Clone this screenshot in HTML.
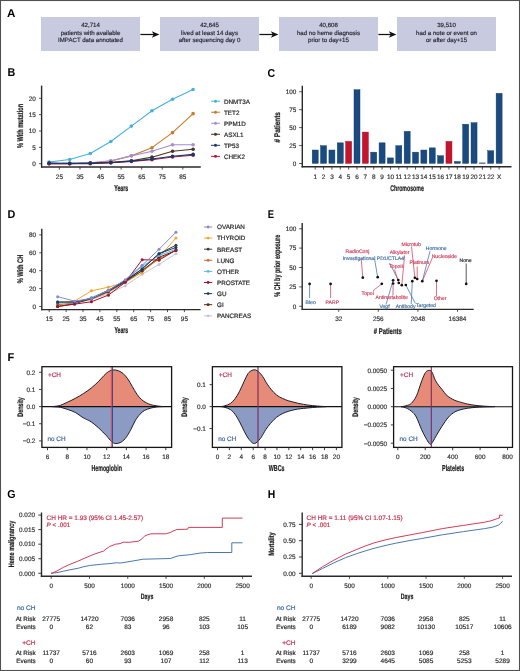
<!DOCTYPE html>
<html><head><meta charset="utf-8"><style>
html,body{margin:0;padding:0;background:#fff;}
svg{display:block;font-family:"Liberation Sans", sans-serif;will-change:transform;text-rendering:geometricPrecision;}
</style></head><body>
<svg width="520" height="671" viewBox="0 0 520 671">
<rect width="520" height="671" fill="#fff"/>
<text x="6.90" y="16.70" font-size="11.4" font-weight="bold" fill="#000" textLength="8.4" lengthAdjust="spacingAndGlyphs">A</text>
<rect x="41" y="17" width="99" height="34" fill="#c8cadf"/>
<text x="90.50" y="26.60" font-size="6.1" text-anchor="middle" fill="#2a2a35" stroke="#2a2a35" stroke-width="0.18" font-weight="normal" >42,714</text>
<text x="90.50" y="34.50" font-size="6.1" text-anchor="middle" fill="#2a2a35" stroke="#2a2a35" stroke-width="0.18" font-weight="normal" >patients with available</text>
<text x="90.50" y="42.40" font-size="6.1" text-anchor="middle" fill="#2a2a35" stroke="#2a2a35" stroke-width="0.18" font-weight="normal" >IMPACT data annotated</text>
<line x1="140.40" y1="34.50" x2="155.40" y2="34.50" stroke="#111" stroke-width="1.25" />
<path d="M159.4,34.5 L151.8,31.2 L153.8,34.5 L151.8,37.8 Z" fill="#111"/>
<rect x="160" y="17" width="99" height="34" fill="#c8cadf"/>
<text x="209.50" y="26.60" font-size="6.1" text-anchor="middle" fill="#2a2a35" stroke="#2a2a35" stroke-width="0.18" font-weight="normal" >42,645</text>
<text x="209.50" y="34.50" font-size="6.1" text-anchor="middle" fill="#2a2a35" stroke="#2a2a35" stroke-width="0.18" font-weight="normal" >lived at least 14 days</text>
<text x="209.50" y="42.40" font-size="6.1" text-anchor="middle" fill="#2a2a35" stroke="#2a2a35" stroke-width="0.18" font-weight="normal" >after sequencing day 0</text>
<line x1="259.40" y1="34.50" x2="274.40" y2="34.50" stroke="#111" stroke-width="1.25" />
<path d="M278.4,34.5 L270.79999999999995,31.2 L272.79999999999995,34.5 L270.79999999999995,37.8 Z" fill="#111"/>
<rect x="279" y="17" width="99" height="34" fill="#c8cadf"/>
<text x="328.50" y="26.60" font-size="6.1" text-anchor="middle" fill="#2a2a35" stroke="#2a2a35" stroke-width="0.18" font-weight="normal" >40,608</text>
<text x="328.50" y="34.50" font-size="6.1" text-anchor="middle" fill="#2a2a35" stroke="#2a2a35" stroke-width="0.18" font-weight="normal" >had no heme diagnosis</text>
<text x="328.50" y="42.40" font-size="6.1" text-anchor="middle" fill="#2a2a35" stroke="#2a2a35" stroke-width="0.18" font-weight="normal" >prior to day+15</text>
<line x1="378.40" y1="34.50" x2="392.40" y2="34.50" stroke="#111" stroke-width="1.25" />
<path d="M396.4,34.5 L388.79999999999995,31.2 L390.79999999999995,34.5 L388.79999999999995,37.8 Z" fill="#111"/>
<rect x="397" y="17" width="99" height="34" fill="#c8cadf"/>
<text x="446.50" y="26.60" font-size="6.1" text-anchor="middle" fill="#2a2a35" stroke="#2a2a35" stroke-width="0.18" font-weight="normal" >39,510</text>
<text x="446.50" y="34.50" font-size="6.1" text-anchor="middle" fill="#2a2a35" stroke="#2a2a35" stroke-width="0.18" font-weight="normal" >had a note or event on</text>
<text x="446.50" y="42.40" font-size="6.1" text-anchor="middle" fill="#2a2a35" stroke="#2a2a35" stroke-width="0.18" font-weight="normal" >or after day+15</text>
<text x="7.50" y="76.40" font-size="11.4" font-weight="bold" fill="#000" textLength="7.8" lengthAdjust="spacingAndGlyphs">B</text>
<line x1="41.60" y1="85.60" x2="41.60" y2="167.60" stroke="#2a2a2a" stroke-width="1.4" />
<line x1="41.00" y1="167.00" x2="200.80" y2="167.00" stroke="#2a2a2a" stroke-width="1.4" />
<line x1="39.00" y1="163.70" x2="41.60" y2="163.70" stroke="#2a2a2a" stroke-width="0.8" />
<text x="35.80" y="166.00" font-size="6.4" text-anchor="end" fill="#333" stroke="#333" stroke-width="0.18" font-weight="normal" >0</text>
<line x1="39.00" y1="147.35" x2="41.60" y2="147.35" stroke="#2a2a2a" stroke-width="0.8" />
<text x="35.80" y="149.65" font-size="6.4" text-anchor="end" fill="#333" stroke="#333" stroke-width="0.18" font-weight="normal" >5</text>
<line x1="39.00" y1="131.00" x2="41.60" y2="131.00" stroke="#2a2a2a" stroke-width="0.8" />
<text x="35.80" y="133.30" font-size="6.4" text-anchor="end" fill="#333" stroke="#333" stroke-width="0.18" font-weight="normal" >10</text>
<line x1="39.00" y1="114.65" x2="41.60" y2="114.65" stroke="#2a2a2a" stroke-width="0.8" />
<text x="35.80" y="116.95" font-size="6.4" text-anchor="end" fill="#333" stroke="#333" stroke-width="0.18" font-weight="normal" >15</text>
<line x1="39.00" y1="98.30" x2="41.60" y2="98.30" stroke="#2a2a2a" stroke-width="0.8" />
<text x="35.80" y="100.60" font-size="6.4" text-anchor="end" fill="#333" stroke="#333" stroke-width="0.18" font-weight="normal" >20</text>
<line x1="59.40" y1="167.00" x2="59.40" y2="169.60" stroke="#2a2a2a" stroke-width="0.8" />
<text x="59.40" y="178.80" font-size="6.4" text-anchor="middle" fill="#333" stroke="#333" stroke-width="0.18" font-weight="normal" >25</text>
<line x1="79.97" y1="167.00" x2="79.97" y2="169.60" stroke="#2a2a2a" stroke-width="0.8" />
<text x="79.97" y="178.80" font-size="6.4" text-anchor="middle" fill="#333" stroke="#333" stroke-width="0.18" font-weight="normal" >35</text>
<line x1="100.54" y1="167.00" x2="100.54" y2="169.60" stroke="#2a2a2a" stroke-width="0.8" />
<text x="100.54" y="178.80" font-size="6.4" text-anchor="middle" fill="#333" stroke="#333" stroke-width="0.18" font-weight="normal" >45</text>
<line x1="121.11" y1="167.00" x2="121.11" y2="169.60" stroke="#2a2a2a" stroke-width="0.8" />
<text x="121.11" y="178.80" font-size="6.4" text-anchor="middle" fill="#333" stroke="#333" stroke-width="0.18" font-weight="normal" >55</text>
<line x1="141.68" y1="167.00" x2="141.68" y2="169.60" stroke="#2a2a2a" stroke-width="0.8" />
<text x="141.68" y="178.80" font-size="6.4" text-anchor="middle" fill="#333" stroke="#333" stroke-width="0.18" font-weight="normal" >65</text>
<line x1="162.25" y1="167.00" x2="162.25" y2="169.60" stroke="#2a2a2a" stroke-width="0.8" />
<text x="162.25" y="178.80" font-size="6.4" text-anchor="middle" fill="#333" stroke="#333" stroke-width="0.18" font-weight="normal" >75</text>
<line x1="182.82" y1="167.00" x2="182.82" y2="169.60" stroke="#2a2a2a" stroke-width="0.8" />
<text x="182.82" y="178.80" font-size="6.4" text-anchor="middle" fill="#333" stroke="#333" stroke-width="0.18" font-weight="normal" >85</text>
<text x="121.20" y="190.70" font-size="8.6" text-anchor="middle" fill="#222" stroke="#222" stroke-width="0.22" font-weight="bold" textLength="14" lengthAdjust="spacingAndGlyphs">Years</text>
<text transform="translate(23.10,126.00) rotate(-90)" x="0" y="0" font-size="8.4" text-anchor="middle" fill="#222" stroke="#222" stroke-width="0.22" font-weight="bold" textLength="44.2" lengthAdjust="spacingAndGlyphs">% With mutation</text>
<polyline points="49.11,162.06 69.69,159.45 90.25,153.56 110.82,141.46 131.40,126.09 151.97,110.73 172.53,99.28 193.10,89.47" fill="none" stroke="#45b0de" stroke-width="1.1" stroke-linejoin="round" />
<circle cx="49.11" cy="162.06" r="1.8" fill="#45b0de"/>
<circle cx="69.69" cy="159.45" r="1.8" fill="#45b0de"/>
<circle cx="90.25" cy="153.56" r="1.8" fill="#45b0de"/>
<circle cx="110.82" cy="141.46" r="1.8" fill="#45b0de"/>
<circle cx="131.40" cy="126.09" r="1.8" fill="#45b0de"/>
<circle cx="151.97" cy="110.73" r="1.8" fill="#45b0de"/>
<circle cx="172.53" cy="99.28" r="1.8" fill="#45b0de"/>
<circle cx="193.10" cy="89.47" r="1.8" fill="#45b0de"/>
<polyline points="49.11,163.70 69.69,163.37 90.25,163.05 110.82,161.08 131.40,155.85 151.97,147.68 172.53,132.63 193.10,113.67" fill="none" stroke="#c97a2c" stroke-width="1.1" stroke-linejoin="round" />
<circle cx="49.11" cy="163.70" r="1.8" fill="#c97a2c"/>
<circle cx="69.69" cy="163.37" r="1.8" fill="#c97a2c"/>
<circle cx="90.25" cy="163.05" r="1.8" fill="#c97a2c"/>
<circle cx="110.82" cy="161.08" r="1.8" fill="#c97a2c"/>
<circle cx="131.40" cy="155.85" r="1.8" fill="#c97a2c"/>
<circle cx="151.97" cy="147.68" r="1.8" fill="#c97a2c"/>
<circle cx="172.53" cy="132.63" r="1.8" fill="#c97a2c"/>
<circle cx="193.10" cy="113.67" r="1.8" fill="#c97a2c"/>
<polyline points="49.11,163.70 69.69,163.37 90.25,162.72 110.82,160.76 131.40,155.85 151.97,151.27 172.53,144.73 193.10,144.73" fill="none" stroke="#a48fd0" stroke-width="1.1" stroke-linejoin="round" />
<circle cx="49.11" cy="163.70" r="1.8" fill="#a48fd0"/>
<circle cx="69.69" cy="163.37" r="1.8" fill="#a48fd0"/>
<circle cx="90.25" cy="162.72" r="1.8" fill="#a48fd0"/>
<circle cx="110.82" cy="160.76" r="1.8" fill="#a48fd0"/>
<circle cx="131.40" cy="155.85" r="1.8" fill="#a48fd0"/>
<circle cx="151.97" cy="151.27" r="1.8" fill="#a48fd0"/>
<circle cx="172.53" cy="144.73" r="1.8" fill="#a48fd0"/>
<circle cx="193.10" cy="144.73" r="1.8" fill="#a48fd0"/>
<polyline points="49.11,163.37 69.69,163.70 90.25,163.05 110.82,162.39 131.40,160.76 151.97,157.16 172.53,151.27 193.10,149.31" fill="none" stroke="#4b3421" stroke-width="1.1" stroke-linejoin="round" />
<circle cx="49.11" cy="163.37" r="1.8" fill="#4b3421"/>
<circle cx="69.69" cy="163.70" r="1.8" fill="#4b3421"/>
<circle cx="90.25" cy="163.05" r="1.8" fill="#4b3421"/>
<circle cx="110.82" cy="162.39" r="1.8" fill="#4b3421"/>
<circle cx="131.40" cy="160.76" r="1.8" fill="#4b3421"/>
<circle cx="151.97" cy="157.16" r="1.8" fill="#4b3421"/>
<circle cx="172.53" cy="151.27" r="1.8" fill="#4b3421"/>
<circle cx="193.10" cy="149.31" r="1.8" fill="#4b3421"/>
<polyline points="49.11,163.70 69.69,163.70 90.25,163.70 110.82,162.72 131.40,161.41 151.97,159.78 172.53,157.00 193.10,155.20" fill="none" stroke="#b5173f" stroke-width="1.1" stroke-linejoin="round" />
<circle cx="49.11" cy="163.70" r="1.8" fill="#b5173f"/>
<circle cx="69.69" cy="163.70" r="1.8" fill="#b5173f"/>
<circle cx="90.25" cy="163.70" r="1.8" fill="#b5173f"/>
<circle cx="110.82" cy="162.72" r="1.8" fill="#b5173f"/>
<circle cx="131.40" cy="161.41" r="1.8" fill="#b5173f"/>
<circle cx="151.97" cy="159.78" r="1.8" fill="#b5173f"/>
<circle cx="172.53" cy="157.00" r="1.8" fill="#b5173f"/>
<circle cx="193.10" cy="155.20" r="1.8" fill="#b5173f"/>
<polyline points="49.11,163.05 69.69,163.37 90.25,163.37 110.82,162.72 131.40,161.08 151.97,158.96 172.53,156.18 193.10,154.38" fill="none" stroke="#16386b" stroke-width="1.1" stroke-linejoin="round" />
<circle cx="49.11" cy="163.05" r="1.8" fill="#16386b"/>
<circle cx="69.69" cy="163.37" r="1.8" fill="#16386b"/>
<circle cx="90.25" cy="163.37" r="1.8" fill="#16386b"/>
<circle cx="110.82" cy="162.72" r="1.8" fill="#16386b"/>
<circle cx="131.40" cy="161.08" r="1.8" fill="#16386b"/>
<circle cx="151.97" cy="158.96" r="1.8" fill="#16386b"/>
<circle cx="172.53" cy="156.18" r="1.8" fill="#16386b"/>
<circle cx="193.10" cy="154.38" r="1.8" fill="#16386b"/>
<line x1="211.00" y1="101.20" x2="220.00" y2="101.20" stroke="#45b0de" stroke-width="1.0" />
<circle cx="215.50" cy="101.20" r="1.5" fill="#45b0de"/>
<text x="224.00" y="103.50" font-size="6.3" text-anchor="start" fill="#222" stroke="#222" stroke-width="0.18" font-weight="normal" >DNMT3A</text>
<line x1="211.00" y1="112.23" x2="220.00" y2="112.23" stroke="#c97a2c" stroke-width="1.0" />
<circle cx="215.50" cy="112.23" r="1.5" fill="#c97a2c"/>
<text x="224.00" y="114.53" font-size="6.3" text-anchor="start" fill="#222" stroke="#222" stroke-width="0.18" font-weight="normal" >TET2</text>
<line x1="211.00" y1="123.26" x2="220.00" y2="123.26" stroke="#a48fd0" stroke-width="1.0" />
<circle cx="215.50" cy="123.26" r="1.5" fill="#a48fd0"/>
<text x="224.00" y="125.56" font-size="6.3" text-anchor="start" fill="#222" stroke="#222" stroke-width="0.18" font-weight="normal" >PPM1D</text>
<line x1="211.00" y1="134.29" x2="220.00" y2="134.29" stroke="#4b3421" stroke-width="1.0" />
<circle cx="215.50" cy="134.29" r="1.5" fill="#4b3421"/>
<text x="224.00" y="136.59" font-size="6.3" text-anchor="start" fill="#222" stroke="#222" stroke-width="0.18" font-weight="normal" >ASXL1</text>
<line x1="211.00" y1="145.32" x2="220.00" y2="145.32" stroke="#16386b" stroke-width="1.0" />
<circle cx="215.50" cy="145.32" r="1.5" fill="#16386b"/>
<text x="224.00" y="147.62" font-size="6.3" text-anchor="start" fill="#222" stroke="#222" stroke-width="0.18" font-weight="normal" >TP53</text>
<line x1="211.00" y1="156.35" x2="220.00" y2="156.35" stroke="#b5173f" stroke-width="1.0" />
<circle cx="215.50" cy="156.35" r="1.5" fill="#b5173f"/>
<text x="224.00" y="158.65" font-size="6.3" text-anchor="start" fill="#222" stroke="#222" stroke-width="0.18" font-weight="normal" >CHEK2</text>
<text x="267.50" y="76.60" font-size="11.4" font-weight="bold" fill="#000" textLength="7.6" lengthAdjust="spacingAndGlyphs">C</text>
<line x1="302.30" y1="85.70" x2="302.30" y2="167.40" stroke="#2a2a2a" stroke-width="1.4" />
<line x1="301.60" y1="166.80" x2="511.50" y2="166.80" stroke="#2a2a2a" stroke-width="1.4" />
<line x1="299.20" y1="163.50" x2="302.20" y2="163.50" stroke="#2a2a2a" stroke-width="0.8" />
<text x="296.40" y="165.80" font-size="6.4" text-anchor="end" fill="#333" stroke="#333" stroke-width="0.18" font-weight="normal" >0</text>
<line x1="299.20" y1="145.56" x2="302.20" y2="145.56" stroke="#2a2a2a" stroke-width="0.8" />
<text x="296.40" y="147.86" font-size="6.4" text-anchor="end" fill="#333" stroke="#333" stroke-width="0.18" font-weight="normal" >25</text>
<line x1="299.20" y1="127.62" x2="302.20" y2="127.62" stroke="#2a2a2a" stroke-width="0.8" />
<text x="296.40" y="129.93" font-size="6.4" text-anchor="end" fill="#333" stroke="#333" stroke-width="0.18" font-weight="normal" >50</text>
<line x1="299.20" y1="109.69" x2="302.20" y2="109.69" stroke="#2a2a2a" stroke-width="0.8" />
<text x="296.40" y="111.99" font-size="6.4" text-anchor="end" fill="#333" stroke="#333" stroke-width="0.18" font-weight="normal" >75</text>
<line x1="299.20" y1="91.75" x2="302.20" y2="91.75" stroke="#2a2a2a" stroke-width="0.8" />
<text x="296.40" y="94.05" font-size="6.4" text-anchor="end" fill="#333" stroke="#333" stroke-width="0.18" font-weight="normal" >100</text>
<rect x="312.20" y="150.02" width="6.0" height="13.33" fill="#194a80" stroke="#0f3a6e" stroke-width="0.45"/>
<line x1="315.20" y1="166.80" x2="315.20" y2="169.60" stroke="#2a2a2a" stroke-width="0.8" />
<text x="315.20" y="179.20" font-size="6.4" text-anchor="middle" fill="#333" stroke="#333" stroke-width="0.18" font-weight="normal" >1</text>
<rect x="320.56" y="145.71" width="6.0" height="17.64" fill="#194a80" stroke="#0f3a6e" stroke-width="0.45"/>
<line x1="323.56" y1="166.80" x2="323.56" y2="169.60" stroke="#2a2a2a" stroke-width="0.8" />
<text x="323.56" y="179.20" font-size="6.4" text-anchor="middle" fill="#333" stroke="#333" stroke-width="0.18" font-weight="normal" >2</text>
<rect x="328.92" y="150.02" width="6.0" height="13.33" fill="#194a80" stroke="#0f3a6e" stroke-width="0.45"/>
<line x1="331.92" y1="166.80" x2="331.92" y2="169.60" stroke="#2a2a2a" stroke-width="0.8" />
<text x="331.92" y="179.20" font-size="6.4" text-anchor="middle" fill="#333" stroke="#333" stroke-width="0.18" font-weight="normal" >3</text>
<rect x="337.28" y="142.84" width="6.0" height="20.51" fill="#194a80" stroke="#0f3a6e" stroke-width="0.45"/>
<line x1="340.28" y1="166.80" x2="340.28" y2="169.60" stroke="#2a2a2a" stroke-width="0.8" />
<text x="340.28" y="179.20" font-size="6.4" text-anchor="middle" fill="#333" stroke="#333" stroke-width="0.18" font-weight="normal" >4</text>
<rect x="345.64" y="141.41" width="6.0" height="21.94" fill="#c4142e" stroke="#9a0f25" stroke-width="0.45"/>
<line x1="348.64" y1="166.80" x2="348.64" y2="169.60" stroke="#2a2a2a" stroke-width="0.8" />
<text x="348.64" y="179.20" font-size="6.4" text-anchor="middle" fill="#333" stroke="#333" stroke-width="0.18" font-weight="normal" >5</text>
<rect x="354.00" y="89.75" width="6.0" height="73.60" fill="#194a80" stroke="#0f3a6e" stroke-width="0.45"/>
<line x1="357.00" y1="166.80" x2="357.00" y2="169.60" stroke="#2a2a2a" stroke-width="0.8" />
<text x="357.00" y="179.20" font-size="6.4" text-anchor="middle" fill="#333" stroke="#333" stroke-width="0.18" font-weight="normal" >6</text>
<rect x="362.36" y="132.08" width="6.0" height="31.27" fill="#c4142e" stroke="#9a0f25" stroke-width="0.45"/>
<line x1="365.36" y1="166.80" x2="365.36" y2="169.60" stroke="#2a2a2a" stroke-width="0.8" />
<text x="365.36" y="179.20" font-size="6.4" text-anchor="middle" fill="#333" stroke="#333" stroke-width="0.18" font-weight="normal" >7</text>
<rect x="370.72" y="152.17" width="6.0" height="11.18" fill="#194a80" stroke="#0f3a6e" stroke-width="0.45"/>
<line x1="373.72" y1="166.80" x2="373.72" y2="169.60" stroke="#2a2a2a" stroke-width="0.8" />
<text x="373.72" y="179.20" font-size="6.4" text-anchor="middle" fill="#333" stroke="#333" stroke-width="0.18" font-weight="normal" >8</text>
<rect x="379.08" y="142.84" width="6.0" height="20.51" fill="#194a80" stroke="#0f3a6e" stroke-width="0.45"/>
<line x1="382.08" y1="166.80" x2="382.08" y2="169.60" stroke="#2a2a2a" stroke-width="0.8" />
<text x="382.08" y="179.20" font-size="6.4" text-anchor="middle" fill="#333" stroke="#333" stroke-width="0.18" font-weight="normal" >9</text>
<rect x="387.44" y="157.91" width="6.0" height="5.44" fill="#194a80" stroke="#0f3a6e" stroke-width="0.45"/>
<line x1="390.44" y1="166.80" x2="390.44" y2="169.60" stroke="#2a2a2a" stroke-width="0.8" />
<text x="390.44" y="179.20" font-size="6.4" text-anchor="middle" fill="#333" stroke="#333" stroke-width="0.18" font-weight="normal" >10</text>
<rect x="395.80" y="145.71" width="6.0" height="17.64" fill="#194a80" stroke="#0f3a6e" stroke-width="0.45"/>
<line x1="398.80" y1="166.80" x2="398.80" y2="169.60" stroke="#2a2a2a" stroke-width="0.8" />
<text x="398.80" y="179.20" font-size="6.4" text-anchor="middle" fill="#333" stroke="#333" stroke-width="0.18" font-weight="normal" >11</text>
<rect x="404.16" y="131.36" width="6.0" height="31.99" fill="#194a80" stroke="#0f3a6e" stroke-width="0.45"/>
<line x1="407.16" y1="166.80" x2="407.16" y2="169.60" stroke="#2a2a2a" stroke-width="0.8" />
<text x="407.16" y="179.20" font-size="6.4" text-anchor="middle" fill="#333" stroke="#333" stroke-width="0.18" font-weight="normal" >12</text>
<rect x="412.52" y="152.17" width="6.0" height="11.18" fill="#194a80" stroke="#0f3a6e" stroke-width="0.45"/>
<line x1="415.52" y1="166.80" x2="415.52" y2="169.60" stroke="#2a2a2a" stroke-width="0.8" />
<text x="415.52" y="179.20" font-size="6.4" text-anchor="middle" fill="#333" stroke="#333" stroke-width="0.18" font-weight="normal" >13</text>
<rect x="420.88" y="150.02" width="6.0" height="13.33" fill="#194a80" stroke="#0f3a6e" stroke-width="0.45"/>
<line x1="423.88" y1="166.80" x2="423.88" y2="169.60" stroke="#2a2a2a" stroke-width="0.8" />
<text x="423.88" y="179.20" font-size="6.4" text-anchor="middle" fill="#333" stroke="#333" stroke-width="0.18" font-weight="normal" >14</text>
<rect x="429.24" y="147.87" width="6.0" height="15.48" fill="#194a80" stroke="#0f3a6e" stroke-width="0.45"/>
<line x1="432.24" y1="166.80" x2="432.24" y2="169.60" stroke="#2a2a2a" stroke-width="0.8" />
<text x="432.24" y="179.20" font-size="6.4" text-anchor="middle" fill="#333" stroke="#333" stroke-width="0.18" font-weight="normal" >15</text>
<rect x="437.60" y="155.76" width="6.0" height="7.59" fill="#194a80" stroke="#0f3a6e" stroke-width="0.45"/>
<line x1="440.60" y1="166.80" x2="440.60" y2="169.60" stroke="#2a2a2a" stroke-width="0.8" />
<text x="440.60" y="179.20" font-size="6.4" text-anchor="middle" fill="#333" stroke="#333" stroke-width="0.18" font-weight="normal" >16</text>
<rect x="445.96" y="141.41" width="6.0" height="21.94" fill="#c4142e" stroke="#9a0f25" stroke-width="0.45"/>
<line x1="448.96" y1="166.80" x2="448.96" y2="169.60" stroke="#2a2a2a" stroke-width="0.8" />
<text x="448.96" y="179.20" font-size="6.4" text-anchor="middle" fill="#333" stroke="#333" stroke-width="0.18" font-weight="normal" >17</text>
<rect x="454.32" y="161.50" width="6.0" height="1.85" fill="#194a80" stroke="#0f3a6e" stroke-width="0.45"/>
<line x1="457.32" y1="166.80" x2="457.32" y2="169.60" stroke="#2a2a2a" stroke-width="0.8" />
<text x="457.32" y="179.20" font-size="6.4" text-anchor="middle" fill="#333" stroke="#333" stroke-width="0.18" font-weight="normal" >18</text>
<rect x="462.68" y="124.19" width="6.0" height="39.16" fill="#194a80" stroke="#0f3a6e" stroke-width="0.45"/>
<line x1="465.68" y1="166.80" x2="465.68" y2="169.60" stroke="#2a2a2a" stroke-width="0.8" />
<text x="465.68" y="179.20" font-size="6.4" text-anchor="middle" fill="#333" stroke="#333" stroke-width="0.18" font-weight="normal" >19</text>
<rect x="471.04" y="122.75" width="6.0" height="40.60" fill="#194a80" stroke="#0f3a6e" stroke-width="0.45"/>
<line x1="474.04" y1="166.80" x2="474.04" y2="169.60" stroke="#2a2a2a" stroke-width="0.8" />
<text x="474.04" y="179.20" font-size="6.4" text-anchor="middle" fill="#333" stroke="#333" stroke-width="0.18" font-weight="normal" >20</text>
<rect x="479.40" y="162.93" width="6.0" height="0.42" fill="#194a80" stroke="#0f3a6e" stroke-width="0.45"/>
<line x1="482.40" y1="166.80" x2="482.40" y2="169.60" stroke="#2a2a2a" stroke-width="0.8" />
<text x="482.40" y="179.20" font-size="6.4" text-anchor="middle" fill="#333" stroke="#333" stroke-width="0.18" font-weight="normal" >21</text>
<rect x="487.76" y="150.74" width="6.0" height="12.62" fill="#194a80" stroke="#0f3a6e" stroke-width="0.45"/>
<line x1="490.76" y1="166.80" x2="490.76" y2="169.60" stroke="#2a2a2a" stroke-width="0.8" />
<text x="490.76" y="179.20" font-size="6.4" text-anchor="middle" fill="#333" stroke="#333" stroke-width="0.18" font-weight="normal" >22</text>
<rect x="496.12" y="93.34" width="6.0" height="70.02" fill="#194a80" stroke="#0f3a6e" stroke-width="0.45"/>
<line x1="499.12" y1="166.80" x2="499.12" y2="169.60" stroke="#2a2a2a" stroke-width="0.8" />
<text x="499.12" y="179.20" font-size="6.4" text-anchor="middle" fill="#333" stroke="#333" stroke-width="0.18" font-weight="normal" >X</text>
<text x="407.00" y="190.70" font-size="8.2" text-anchor="middle" fill="#222" stroke="#222" stroke-width="0.22" font-weight="bold" textLength="33.6" lengthAdjust="spacingAndGlyphs">Chromosome</text>
<text transform="translate(279.60,127.30) rotate(-90)" x="0" y="0" font-size="8.2" text-anchor="middle" fill="#222" stroke="#222" stroke-width="0.22" font-weight="bold" textLength="30.5" lengthAdjust="spacingAndGlyphs"># Patients</text>
<text x="7.50" y="217.60" font-size="11.4" font-weight="bold" fill="#000" textLength="7.8" lengthAdjust="spacingAndGlyphs">D</text>
<line x1="41.80" y1="228.80" x2="41.80" y2="310.30" stroke="#2a2a2a" stroke-width="1.4" />
<line x1="41.20" y1="309.60" x2="200.60" y2="309.60" stroke="#2a2a2a" stroke-width="1.4" />
<line x1="39.20" y1="306.50" x2="41.80" y2="306.50" stroke="#2a2a2a" stroke-width="0.8" />
<text x="36.00" y="308.80" font-size="6.4" text-anchor="end" fill="#333" stroke="#333" stroke-width="0.18" font-weight="normal" >0</text>
<line x1="39.20" y1="288.60" x2="41.80" y2="288.60" stroke="#2a2a2a" stroke-width="0.8" />
<text x="36.00" y="290.90" font-size="6.4" text-anchor="end" fill="#333" stroke="#333" stroke-width="0.18" font-weight="normal" >20</text>
<line x1="39.20" y1="270.70" x2="41.80" y2="270.70" stroke="#2a2a2a" stroke-width="0.8" />
<text x="36.00" y="273.00" font-size="6.4" text-anchor="end" fill="#333" stroke="#333" stroke-width="0.18" font-weight="normal" >40</text>
<line x1="39.20" y1="252.80" x2="41.80" y2="252.80" stroke="#2a2a2a" stroke-width="0.8" />
<text x="36.00" y="255.10" font-size="6.4" text-anchor="end" fill="#333" stroke="#333" stroke-width="0.18" font-weight="normal" >60</text>
<line x1="39.20" y1="234.90" x2="41.80" y2="234.90" stroke="#2a2a2a" stroke-width="0.8" />
<text x="36.00" y="237.20" font-size="6.4" text-anchor="end" fill="#333" stroke="#333" stroke-width="0.18" font-weight="normal" >80</text>
<line x1="49.20" y1="309.50" x2="49.20" y2="312.10" stroke="#2a2a2a" stroke-width="0.8" />
<text x="49.20" y="321.30" font-size="6.4" text-anchor="middle" fill="#333" stroke="#333" stroke-width="0.18" font-weight="normal" >15</text>
<line x1="66.10" y1="309.50" x2="66.10" y2="312.10" stroke="#2a2a2a" stroke-width="0.8" />
<text x="66.10" y="321.30" font-size="6.4" text-anchor="middle" fill="#333" stroke="#333" stroke-width="0.18" font-weight="normal" >25</text>
<line x1="83.00" y1="309.50" x2="83.00" y2="312.10" stroke="#2a2a2a" stroke-width="0.8" />
<text x="83.00" y="321.30" font-size="6.4" text-anchor="middle" fill="#333" stroke="#333" stroke-width="0.18" font-weight="normal" >35</text>
<line x1="99.90" y1="309.50" x2="99.90" y2="312.10" stroke="#2a2a2a" stroke-width="0.8" />
<text x="99.90" y="321.30" font-size="6.4" text-anchor="middle" fill="#333" stroke="#333" stroke-width="0.18" font-weight="normal" >45</text>
<line x1="116.80" y1="309.50" x2="116.80" y2="312.10" stroke="#2a2a2a" stroke-width="0.8" />
<text x="116.80" y="321.30" font-size="6.4" text-anchor="middle" fill="#333" stroke="#333" stroke-width="0.18" font-weight="normal" >55</text>
<line x1="133.70" y1="309.50" x2="133.70" y2="312.10" stroke="#2a2a2a" stroke-width="0.8" />
<text x="133.70" y="321.30" font-size="6.4" text-anchor="middle" fill="#333" stroke="#333" stroke-width="0.18" font-weight="normal" >65</text>
<line x1="150.60" y1="309.50" x2="150.60" y2="312.10" stroke="#2a2a2a" stroke-width="0.8" />
<text x="150.60" y="321.30" font-size="6.4" text-anchor="middle" fill="#333" stroke="#333" stroke-width="0.18" font-weight="normal" >75</text>
<line x1="167.50" y1="309.50" x2="167.50" y2="312.10" stroke="#2a2a2a" stroke-width="0.8" />
<text x="167.50" y="321.30" font-size="6.4" text-anchor="middle" fill="#333" stroke="#333" stroke-width="0.18" font-weight="normal" >85</text>
<line x1="184.40" y1="309.50" x2="184.40" y2="312.10" stroke="#2a2a2a" stroke-width="0.8" />
<text x="184.40" y="321.30" font-size="6.4" text-anchor="middle" fill="#333" stroke="#333" stroke-width="0.18" font-weight="normal" >95</text>
<text x="121.30" y="333.30" font-size="8.6" text-anchor="middle" fill="#222" stroke="#222" stroke-width="0.22" font-weight="bold" textLength="13.7" lengthAdjust="spacingAndGlyphs">Years</text>
<text transform="translate(23.40,269.00) rotate(-90)" x="0" y="0" font-size="8.2" text-anchor="middle" fill="#222" stroke="#222" stroke-width="0.22" font-weight="bold" textLength="28.5" lengthAdjust="spacingAndGlyphs">% With CH</text>
<polyline points="57.65,306.50 74.55,302.92 91.45,299.34 108.35,293.97 125.25,285.74 142.15,274.28 159.05,264.44 175.95,253.69" fill="none" stroke="#c3c6d2" stroke-width="1.0" stroke-linejoin="round" />
<circle cx="57.65" cy="306.50" r="1.5" fill="#c3c6d2"/>
<circle cx="74.55" cy="302.92" r="1.5" fill="#c3c6d2"/>
<circle cx="91.45" cy="299.34" r="1.5" fill="#c3c6d2"/>
<circle cx="108.35" cy="293.97" r="1.5" fill="#c3c6d2"/>
<circle cx="125.25" cy="285.74" r="1.5" fill="#c3c6d2"/>
<circle cx="142.15" cy="274.28" r="1.5" fill="#c3c6d2"/>
<circle cx="159.05" cy="264.44" r="1.5" fill="#c3c6d2"/>
<circle cx="175.95" cy="253.69" r="1.5" fill="#c3c6d2"/>
<polyline points="57.65,302.02 74.55,301.13 91.45,290.84 108.35,287.17 125.25,282.33 142.15,272.49 159.05,257.27 175.95,238.03" fill="none" stroke="#f0a531" stroke-width="1.0" stroke-linejoin="round" />
<circle cx="57.65" cy="302.02" r="1.5" fill="#f0a531"/>
<circle cx="74.55" cy="301.13" r="1.5" fill="#f0a531"/>
<circle cx="91.45" cy="290.84" r="1.5" fill="#f0a531"/>
<circle cx="108.35" cy="287.17" r="1.5" fill="#f0a531"/>
<circle cx="125.25" cy="282.33" r="1.5" fill="#f0a531"/>
<circle cx="142.15" cy="272.49" r="1.5" fill="#f0a531"/>
<circle cx="159.05" cy="257.27" r="1.5" fill="#f0a531"/>
<circle cx="175.95" cy="238.03" r="1.5" fill="#f0a531"/>
<polyline points="57.65,304.71 74.55,302.92 91.45,299.34 108.35,292.18 125.25,282.33 142.15,270.70 159.05,259.06 175.95,250.12" fill="none" stroke="#c46f2e" stroke-width="1.0" stroke-linejoin="round" />
<circle cx="57.65" cy="304.71" r="1.5" fill="#c46f2e"/>
<circle cx="74.55" cy="302.92" r="1.5" fill="#c46f2e"/>
<circle cx="91.45" cy="299.34" r="1.5" fill="#c46f2e"/>
<circle cx="108.35" cy="292.18" r="1.5" fill="#c46f2e"/>
<circle cx="125.25" cy="282.33" r="1.5" fill="#c46f2e"/>
<circle cx="142.15" cy="270.70" r="1.5" fill="#c46f2e"/>
<circle cx="159.05" cy="259.06" r="1.5" fill="#c46f2e"/>
<circle cx="175.95" cy="250.12" r="1.5" fill="#c46f2e"/>
<polyline points="57.65,306.50 74.55,303.81 91.45,298.44 108.35,291.29 125.25,281.44 142.15,270.70 159.05,257.27 175.95,250.56" fill="none" stroke="#5a2b12" stroke-width="1.0" stroke-linejoin="round" />
<circle cx="57.65" cy="306.50" r="1.5" fill="#5a2b12"/>
<circle cx="74.55" cy="303.81" r="1.5" fill="#5a2b12"/>
<circle cx="91.45" cy="298.44" r="1.5" fill="#5a2b12"/>
<circle cx="108.35" cy="291.29" r="1.5" fill="#5a2b12"/>
<circle cx="125.25" cy="281.44" r="1.5" fill="#5a2b12"/>
<circle cx="142.15" cy="270.70" r="1.5" fill="#5a2b12"/>
<circle cx="159.05" cy="257.27" r="1.5" fill="#5a2b12"/>
<circle cx="175.95" cy="250.56" r="1.5" fill="#5a2b12"/>
<polyline points="57.65,302.92 74.55,302.02 91.45,298.44 108.35,291.29 125.25,281.44 142.15,268.91 159.05,253.69 175.95,245.19" fill="none" stroke="#3c3c3c" stroke-width="1.0" stroke-linejoin="round" />
<circle cx="57.65" cy="302.92" r="1.5" fill="#3c3c3c"/>
<circle cx="74.55" cy="302.02" r="1.5" fill="#3c3c3c"/>
<circle cx="91.45" cy="298.44" r="1.5" fill="#3c3c3c"/>
<circle cx="108.35" cy="291.29" r="1.5" fill="#3c3c3c"/>
<circle cx="125.25" cy="281.44" r="1.5" fill="#3c3c3c"/>
<circle cx="142.15" cy="268.91" r="1.5" fill="#3c3c3c"/>
<circle cx="159.05" cy="253.69" r="1.5" fill="#3c3c3c"/>
<circle cx="175.95" cy="245.19" r="1.5" fill="#3c3c3c"/>
<polyline points="57.65,302.02 74.55,302.92 91.45,297.55 108.35,290.39 125.25,280.55 142.15,266.23 159.05,255.49 175.95,249.22" fill="none" stroke="#5db9e3" stroke-width="1.0" stroke-linejoin="round" />
<circle cx="57.65" cy="302.02" r="1.5" fill="#5db9e3"/>
<circle cx="74.55" cy="302.92" r="1.5" fill="#5db9e3"/>
<circle cx="91.45" cy="297.55" r="1.5" fill="#5db9e3"/>
<circle cx="108.35" cy="290.39" r="1.5" fill="#5db9e3"/>
<circle cx="125.25" cy="280.55" r="1.5" fill="#5db9e3"/>
<circle cx="142.15" cy="266.23" r="1.5" fill="#5db9e3"/>
<circle cx="159.05" cy="255.49" r="1.5" fill="#5db9e3"/>
<circle cx="175.95" cy="249.22" r="1.5" fill="#5db9e3"/>
<polyline points="57.65,302.02 74.55,302.02 91.45,298.44 108.35,290.39 125.25,280.55 142.15,268.91 159.05,253.69 175.95,247.43" fill="none" stroke="#173a6a" stroke-width="1.0" stroke-linejoin="round" />
<circle cx="57.65" cy="302.02" r="1.5" fill="#173a6a"/>
<circle cx="74.55" cy="302.02" r="1.5" fill="#173a6a"/>
<circle cx="91.45" cy="298.44" r="1.5" fill="#173a6a"/>
<circle cx="108.35" cy="290.39" r="1.5" fill="#173a6a"/>
<circle cx="125.25" cy="280.55" r="1.5" fill="#173a6a"/>
<circle cx="142.15" cy="268.91" r="1.5" fill="#173a6a"/>
<circle cx="159.05" cy="253.69" r="1.5" fill="#173a6a"/>
<circle cx="175.95" cy="247.43" r="1.5" fill="#173a6a"/>
<polyline points="57.65,306.50 74.55,304.17 91.45,301.76 108.35,295.13 125.25,282.33 142.15,259.69 159.05,260.14 175.95,250.12" fill="none" stroke="#a3122f" stroke-width="1.0" stroke-linejoin="round" />
<circle cx="57.65" cy="306.50" r="1.5" fill="#a3122f"/>
<circle cx="74.55" cy="304.17" r="1.5" fill="#a3122f"/>
<circle cx="91.45" cy="301.76" r="1.5" fill="#a3122f"/>
<circle cx="108.35" cy="295.13" r="1.5" fill="#a3122f"/>
<circle cx="125.25" cy="282.33" r="1.5" fill="#a3122f"/>
<circle cx="142.15" cy="259.69" r="1.5" fill="#a3122f"/>
<circle cx="159.05" cy="260.14" r="1.5" fill="#a3122f"/>
<circle cx="175.95" cy="250.12" r="1.5" fill="#a3122f"/>
<polyline points="57.65,296.65 74.55,301.13 91.45,298.44 108.35,290.39 125.25,279.65 142.15,265.33 159.05,249.22 175.95,232.22" fill="none" stroke="#8b87cc" stroke-width="1.0" stroke-linejoin="round" />
<circle cx="57.65" cy="296.65" r="1.5" fill="#8b87cc"/>
<circle cx="74.55" cy="301.13" r="1.5" fill="#8b87cc"/>
<circle cx="91.45" cy="298.44" r="1.5" fill="#8b87cc"/>
<circle cx="108.35" cy="290.39" r="1.5" fill="#8b87cc"/>
<circle cx="125.25" cy="279.65" r="1.5" fill="#8b87cc"/>
<circle cx="142.15" cy="265.33" r="1.5" fill="#8b87cc"/>
<circle cx="159.05" cy="249.22" r="1.5" fill="#8b87cc"/>
<circle cx="175.95" cy="232.22" r="1.5" fill="#8b87cc"/>
<line x1="204.00" y1="227.00" x2="212.20" y2="227.00" stroke="#8b87cc" stroke-width="1.0" />
<circle cx="208.10" cy="227.00" r="1.4" fill="#8b87cc"/>
<text x="217.00" y="229.30" font-size="6.3" text-anchor="start" fill="#222" stroke="#222" stroke-width="0.18" font-weight="normal" >OVARIAN</text>
<line x1="204.00" y1="238.10" x2="212.20" y2="238.10" stroke="#f0a531" stroke-width="1.0" />
<circle cx="208.10" cy="238.10" r="1.4" fill="#f0a531"/>
<text x="217.00" y="240.40" font-size="6.3" text-anchor="start" fill="#222" stroke="#222" stroke-width="0.18" font-weight="normal" >THYROID</text>
<line x1="204.00" y1="249.20" x2="212.20" y2="249.20" stroke="#3c3c3c" stroke-width="1.0" />
<circle cx="208.10" cy="249.20" r="1.4" fill="#3c3c3c"/>
<text x="217.00" y="251.50" font-size="6.3" text-anchor="start" fill="#222" stroke="#222" stroke-width="0.18" font-weight="normal" >BREAST</text>
<line x1="204.00" y1="260.30" x2="212.20" y2="260.30" stroke="#c46f2e" stroke-width="1.0" />
<circle cx="208.10" cy="260.30" r="1.4" fill="#c46f2e"/>
<text x="217.00" y="262.60" font-size="6.3" text-anchor="start" fill="#222" stroke="#222" stroke-width="0.18" font-weight="normal" >LUNG</text>
<line x1="204.00" y1="271.40" x2="212.20" y2="271.40" stroke="#5db9e3" stroke-width="1.0" />
<circle cx="208.10" cy="271.40" r="1.4" fill="#5db9e3"/>
<text x="217.00" y="273.70" font-size="6.3" text-anchor="start" fill="#222" stroke="#222" stroke-width="0.18" font-weight="normal" >OTHER</text>
<line x1="204.00" y1="282.50" x2="212.20" y2="282.50" stroke="#a3122f" stroke-width="1.0" />
<circle cx="208.10" cy="282.50" r="1.4" fill="#a3122f"/>
<text x="217.00" y="284.80" font-size="6.3" text-anchor="start" fill="#222" stroke="#222" stroke-width="0.18" font-weight="normal" >PROSTATE</text>
<line x1="204.00" y1="293.60" x2="212.20" y2="293.60" stroke="#173a6a" stroke-width="1.0" />
<circle cx="208.10" cy="293.60" r="1.4" fill="#173a6a"/>
<text x="217.00" y="295.90" font-size="6.3" text-anchor="start" fill="#222" stroke="#222" stroke-width="0.18" font-weight="normal" >GU</text>
<line x1="204.00" y1="304.70" x2="212.20" y2="304.70" stroke="#5a2b12" stroke-width="1.0" />
<circle cx="208.10" cy="304.70" r="1.4" fill="#5a2b12"/>
<text x="217.00" y="307.00" font-size="6.3" text-anchor="start" fill="#222" stroke="#222" stroke-width="0.18" font-weight="normal" >GI</text>
<line x1="204.00" y1="315.80" x2="212.20" y2="315.80" stroke="#c3c6d2" stroke-width="1.0" />
<circle cx="208.10" cy="315.80" r="1.4" fill="#c3c6d2"/>
<text x="217.00" y="318.10" font-size="6.3" text-anchor="start" fill="#222" stroke="#222" stroke-width="0.18" font-weight="normal" >PANCREAS</text>
<text x="267.80" y="217.60" font-size="11.4" font-weight="bold" fill="#000" textLength="6.3" lengthAdjust="spacingAndGlyphs">E</text>
<line x1="302.20" y1="223.00" x2="302.20" y2="310.10" stroke="#2a2a2a" stroke-width="1.4" />
<line x1="301.60" y1="309.40" x2="473.70" y2="309.40" stroke="#2a2a2a" stroke-width="1.4" />
<line x1="299.20" y1="306.25" x2="302.20" y2="306.25" stroke="#2a2a2a" stroke-width="0.8" />
<text x="296.40" y="308.55" font-size="6.4" text-anchor="end" fill="#333" stroke="#333" stroke-width="0.18" font-weight="normal" >0</text>
<line x1="299.20" y1="286.88" x2="302.20" y2="286.88" stroke="#2a2a2a" stroke-width="0.8" />
<text x="296.40" y="289.18" font-size="6.4" text-anchor="end" fill="#333" stroke="#333" stroke-width="0.18" font-weight="normal" >25</text>
<line x1="299.20" y1="267.50" x2="302.20" y2="267.50" stroke="#2a2a2a" stroke-width="0.8" />
<text x="296.40" y="269.80" font-size="6.4" text-anchor="end" fill="#333" stroke="#333" stroke-width="0.18" font-weight="normal" >50</text>
<line x1="299.20" y1="248.12" x2="302.20" y2="248.12" stroke="#2a2a2a" stroke-width="0.8" />
<text x="296.40" y="250.43" font-size="6.4" text-anchor="end" fill="#333" stroke="#333" stroke-width="0.18" font-weight="normal" >75</text>
<line x1="299.20" y1="228.75" x2="302.20" y2="228.75" stroke="#2a2a2a" stroke-width="0.8" />
<text x="296.40" y="231.05" font-size="6.4" text-anchor="end" fill="#333" stroke="#333" stroke-width="0.18" font-weight="normal" >100</text>
<line x1="338.70" y1="309.20" x2="338.70" y2="311.80" stroke="#2a2a2a" stroke-width="0.8" />
<text x="338.70" y="321.30" font-size="6.4" text-anchor="middle" fill="#333" stroke="#333" stroke-width="0.18" font-weight="normal" >32</text>
<line x1="378.30" y1="309.20" x2="378.30" y2="311.80" stroke="#2a2a2a" stroke-width="0.8" />
<text x="378.30" y="321.30" font-size="6.4" text-anchor="middle" fill="#333" stroke="#333" stroke-width="0.18" font-weight="normal" >256</text>
<line x1="417.90" y1="309.20" x2="417.90" y2="311.80" stroke="#2a2a2a" stroke-width="0.8" />
<text x="417.90" y="321.30" font-size="6.4" text-anchor="middle" fill="#333" stroke="#333" stroke-width="0.18" font-weight="normal" >2048</text>
<line x1="457.50" y1="309.20" x2="457.50" y2="311.80" stroke="#2a2a2a" stroke-width="0.8" />
<text x="457.50" y="321.30" font-size="6.4" text-anchor="middle" fill="#333" stroke="#333" stroke-width="0.18" font-weight="normal" >16384</text>
<text x="387.80" y="333.60" font-size="8.4" text-anchor="middle" fill="#222" stroke="#222" stroke-width="0.22" font-weight="bold" textLength="28" lengthAdjust="spacingAndGlyphs"># Patients</text>
<text transform="translate(279.70,265.70) rotate(-90)" x="0" y="0" font-size="8.2" text-anchor="middle" fill="#222" stroke="#222" stroke-width="0.22" font-weight="bold" textLength="62" lengthAdjust="spacingAndGlyphs">% CH by prior exposure</text>
<line x1="309.60" y1="283.90" x2="309.60" y2="298.00" stroke="#4170aa" stroke-width="0.75" />
<line x1="330.60" y1="283.90" x2="330.60" y2="298.00" stroke="#d03d5c" stroke-width="0.75" />
<line x1="361.20" y1="258.50" x2="362.80" y2="277.70" stroke="#d03d5c" stroke-width="0.75" />
<line x1="374.60" y1="259.20" x2="377.70" y2="277.20" stroke="#4170aa" stroke-width="0.75" />
<line x1="389.50" y1="263.00" x2="398.30" y2="280.00" stroke="#4170aa" stroke-width="0.75" />
<line x1="394.50" y1="269.50" x2="398.80" y2="283.00" stroke="#d03d5c" stroke-width="0.75" />
<line x1="404.60" y1="255.40" x2="401.80" y2="285.20" stroke="#d03d5c" stroke-width="0.75" />
<line x1="411.50" y1="246.50" x2="414.90" y2="277.80" stroke="#d03d5c" stroke-width="0.75" />
<line x1="417.20" y1="266.50" x2="417.20" y2="279.00" stroke="#d03d5c" stroke-width="0.75" />
<line x1="430.00" y1="251.20" x2="422.30" y2="281.20" stroke="#4170aa" stroke-width="0.75" />
<line x1="432.30" y1="258.00" x2="422.30" y2="281.20" stroke="#d03d5c" stroke-width="0.75" />
<line x1="466.20" y1="263.50" x2="466.20" y2="283.90" stroke="#222" stroke-width="0.75" />
<line x1="436.50" y1="295.80" x2="436.50" y2="280.80" stroke="#d03d5c" stroke-width="0.75" />
<line x1="415.40" y1="303.50" x2="405.80" y2="285.00" stroke="#4170aa" stroke-width="0.75" />
<line x1="411.20" y1="304.20" x2="412.30" y2="281.20" stroke="#4170aa" stroke-width="0.75" />
<line x1="373.00" y1="290.80" x2="381.80" y2="283.80" stroke="#d03d5c" stroke-width="0.75" />
<line x1="393.00" y1="295.40" x2="393.10" y2="283.50" stroke="#d03d5c" stroke-width="0.75" />
<line x1="386.00" y1="304.60" x2="393.10" y2="280.30" stroke="#4170aa" stroke-width="0.75" />
<circle cx="309.60" cy="283.90" r="1.35" fill="#111"/>
<circle cx="330.60" cy="283.90" r="1.35" fill="#111"/>
<circle cx="362.80" cy="277.70" r="1.35" fill="#111"/>
<circle cx="377.70" cy="277.20" r="1.35" fill="#111"/>
<circle cx="381.80" cy="283.80" r="1.35" fill="#111"/>
<circle cx="393.10" cy="280.30" r="1.35" fill="#111"/>
<circle cx="393.10" cy="283.50" r="1.35" fill="#111"/>
<circle cx="398.30" cy="280.00" r="1.35" fill="#111"/>
<circle cx="398.80" cy="283.00" r="1.35" fill="#111"/>
<circle cx="401.80" cy="285.20" r="1.35" fill="#111"/>
<circle cx="405.80" cy="285.00" r="1.35" fill="#111"/>
<circle cx="412.30" cy="281.20" r="1.35" fill="#111"/>
<circle cx="414.90" cy="277.80" r="1.35" fill="#111"/>
<circle cx="417.20" cy="279.00" r="1.35" fill="#111"/>
<circle cx="422.30" cy="281.20" r="1.35" fill="#111"/>
<circle cx="436.50" cy="280.80" r="1.35" fill="#111"/>
<circle cx="466.20" cy="283.90" r="1.35" fill="#111"/>
<text x="310.70" y="303.70" font-size="5.1" text-anchor="middle" fill="#4170aa" stroke="#4170aa" stroke-width="0.18" font-weight="normal" >Bleo</text>
<text x="332.30" y="303.70" font-size="5.1" text-anchor="middle" fill="#d03d5c" stroke="#d03d5c" stroke-width="0.18" font-weight="normal" >PARP</text>
<text x="357.50" y="253.40" font-size="5.1" text-anchor="middle" fill="#d03d5c" stroke="#d03d5c" stroke-width="0.18" font-weight="normal" >RadioConj</text>
<text x="359.00" y="259.60" font-size="5.1" text-anchor="middle" fill="#4170aa" stroke="#4170aa" stroke-width="0.18" font-weight="normal" >Investigational</text>
<text x="390.40" y="259.60" font-size="5.1" text-anchor="middle" fill="#4170aa" stroke="#4170aa" stroke-width="0.18" font-weight="normal" >PD1/CTLA4</text>
<text x="399.60" y="253.90" font-size="5.1" text-anchor="middle" fill="#d03d5c" stroke="#d03d5c" stroke-width="0.18" font-weight="normal" >Alkylator</text>
<text x="396.20" y="268.10" font-size="5.1" text-anchor="middle" fill="#d03d5c" stroke="#d03d5c" stroke-width="0.18" font-weight="normal" >TopoII</text>
<text x="411.20" y="245.80" font-size="5.1" text-anchor="middle" fill="#d03d5c" stroke="#d03d5c" stroke-width="0.18" font-weight="normal" >Microtub</text>
<text x="436.20" y="250.40" font-size="5.1" text-anchor="middle" fill="#4170aa" stroke="#4170aa" stroke-width="0.18" font-weight="normal" >Hormone</text>
<text x="444.30" y="257.90" font-size="5.1" text-anchor="middle" fill="#d03d5c" stroke="#d03d5c" stroke-width="0.18" font-weight="normal" >Nucleoside</text>
<text x="419.30" y="264.30" font-size="5.1" text-anchor="middle" fill="#d03d5c" stroke="#d03d5c" stroke-width="0.18" font-weight="normal" >Platinum</text>
<text x="465.60" y="261.50" font-size="5.1" text-anchor="middle" fill="#222" stroke="#222" stroke-width="0.18" font-weight="normal" >None</text>
<text x="367.70" y="295.00" font-size="5.1" text-anchor="middle" fill="#d03d5c" stroke="#d03d5c" stroke-width="0.18" font-weight="normal" >Topoi</text>
<text x="391.70" y="299.10" font-size="5.1" text-anchor="middle" fill="#d03d5c" stroke="#d03d5c" stroke-width="0.18" font-weight="normal" >Antimetabolite</text>
<text x="440.00" y="300.30" font-size="5.1" text-anchor="middle" fill="#d03d5c" stroke="#d03d5c" stroke-width="0.18" font-weight="normal" >Other</text>
<text x="384.50" y="308.10" font-size="5.1" text-anchor="middle" fill="#4170aa" stroke="#4170aa" stroke-width="0.18" font-weight="normal" >Vegf</text>
<text x="405.60" y="308.00" font-size="5.1" text-anchor="middle" fill="#4170aa" stroke="#4170aa" stroke-width="0.18" font-weight="normal" >Antibody</text>
<text x="426.00" y="306.90" font-size="5.1" text-anchor="middle" fill="#4170aa" stroke="#4170aa" stroke-width="0.18" font-weight="normal" >Targeted</text>
<text x="7.40" y="360.90" font-size="11.4" font-weight="bold" fill="#000" textLength="6.7" lengthAdjust="spacingAndGlyphs">F</text>
<path d="M52.00,406.60 C52.67,406.53 54.60,406.42 56.00,406.20 C57.40,405.98 58.38,406.02 60.40,405.30 C62.42,404.58 65.53,403.10 68.10,401.90 C70.67,400.70 73.23,399.50 75.80,398.10 C78.37,396.70 80.93,395.17 83.50,393.50 C86.07,391.83 88.65,390.15 91.20,388.10 C93.75,386.05 96.67,383.30 98.80,381.20 C100.93,379.10 102.38,377.10 104.00,375.50 C105.62,373.90 106.95,372.53 108.50,371.60 C110.05,370.67 111.63,370.03 113.30,369.90 C114.97,369.77 116.87,370.20 118.50,370.80 C120.13,371.40 121.57,372.17 123.10,373.50 C124.63,374.83 126.17,376.63 127.70,378.80 C129.23,380.97 130.77,383.93 132.30,386.50 C133.83,389.07 135.37,392.02 136.90,394.20 C138.43,396.38 139.95,398.18 141.50,399.60 C143.05,401.02 144.65,401.85 146.20,402.70 C147.75,403.55 149.02,404.17 150.80,404.70 C152.58,405.23 154.87,405.58 156.90,405.90 C158.93,406.22 161.98,406.48 163.00,406.60 L163.00,406.6 L52.00,406.6 Z" fill="#e58b78"/>
<path d="M52.00,406.60 C52.67,406.65 54.60,406.78 56.00,406.90 C57.40,407.02 58.38,406.85 60.40,407.30 C62.42,407.75 65.53,408.70 68.10,409.60 C70.67,410.50 73.50,411.47 75.80,412.70 C78.10,413.93 80.12,415.88 81.90,417.00 C83.68,418.12 84.95,418.58 86.50,419.40 C88.05,420.22 89.15,420.45 91.20,421.90 C93.25,423.35 96.25,425.78 98.80,428.10 C101.35,430.42 104.38,433.57 106.50,435.80 C108.62,438.03 109.95,440.20 111.50,441.50 C113.05,442.80 114.13,443.53 115.80,443.60 C117.47,443.67 119.77,442.95 121.50,441.90 C123.23,440.85 124.65,439.35 126.20,437.30 C127.75,435.25 129.27,432.42 130.80,429.60 C132.33,426.78 133.87,422.97 135.40,420.40 C136.93,417.83 138.47,415.87 140.00,414.20 C141.53,412.53 142.80,411.42 144.60,410.40 C146.40,409.38 148.75,408.68 150.80,408.10 C152.85,407.52 154.87,407.15 156.90,406.90 C158.93,406.65 161.98,406.65 163.00,406.60 L163.00,406.6 L52.00,406.6 Z" fill="#8b9bc4"/>
<line x1="41.90" y1="406.60" x2="171.60" y2="406.60" stroke="#111" stroke-width="1.1" />
<path d="M52.00,406.60 C52.67,406.53 54.60,406.42 56.00,406.20 C57.40,405.98 58.38,406.02 60.40,405.30 C62.42,404.58 65.53,403.10 68.10,401.90 C70.67,400.70 73.23,399.50 75.80,398.10 C78.37,396.70 80.93,395.17 83.50,393.50 C86.07,391.83 88.65,390.15 91.20,388.10 C93.75,386.05 96.67,383.30 98.80,381.20 C100.93,379.10 102.38,377.10 104.00,375.50 C105.62,373.90 106.95,372.53 108.50,371.60 C110.05,370.67 111.63,370.03 113.30,369.90 C114.97,369.77 116.87,370.20 118.50,370.80 C120.13,371.40 121.57,372.17 123.10,373.50 C124.63,374.83 126.17,376.63 127.70,378.80 C129.23,380.97 130.77,383.93 132.30,386.50 C133.83,389.07 135.37,392.02 136.90,394.20 C138.43,396.38 139.95,398.18 141.50,399.60 C143.05,401.02 144.65,401.85 146.20,402.70 C147.75,403.55 149.02,404.17 150.80,404.70 C152.58,405.23 154.87,405.58 156.90,405.90 C158.93,406.22 161.98,406.48 163.00,406.60" fill="none" stroke="#1c1c2a" stroke-width="1.0"/>
<path d="M52.00,406.60 C52.67,406.65 54.60,406.78 56.00,406.90 C57.40,407.02 58.38,406.85 60.40,407.30 C62.42,407.75 65.53,408.70 68.10,409.60 C70.67,410.50 73.50,411.47 75.80,412.70 C78.10,413.93 80.12,415.88 81.90,417.00 C83.68,418.12 84.95,418.58 86.50,419.40 C88.05,420.22 89.15,420.45 91.20,421.90 C93.25,423.35 96.25,425.78 98.80,428.10 C101.35,430.42 104.38,433.57 106.50,435.80 C108.62,438.03 109.95,440.20 111.50,441.50 C113.05,442.80 114.13,443.53 115.80,443.60 C117.47,443.67 119.77,442.95 121.50,441.90 C123.23,440.85 124.65,439.35 126.20,437.30 C127.75,435.25 129.27,432.42 130.80,429.60 C132.33,426.78 133.87,422.97 135.40,420.40 C136.93,417.83 138.47,415.87 140.00,414.20 C141.53,412.53 142.80,411.42 144.60,410.40 C146.40,409.38 148.75,408.68 150.80,408.10 C152.85,407.52 154.87,407.15 156.90,406.90 C158.93,406.65 161.98,406.65 163.00,406.60" fill="none" stroke="#1c1c2a" stroke-width="1.0"/>
<line x1="111.30" y1="366.70" x2="111.30" y2="447.40" stroke="#d0405e" stroke-width="1.0" opacity="0.85"/>
<line x1="112.50" y1="366.70" x2="112.50" y2="447.40" stroke="#2e3f7c" stroke-width="1.0" opacity="0.85"/>
<rect x="41.90" y="366.70" width="129.70" height="80.70" fill="none" stroke="#151515" stroke-width="1.3"/>
<line x1="39.10" y1="372.30" x2="41.90" y2="372.30" stroke="#2a2a2a" stroke-width="0.9" />
<text x="35.30" y="374.60" font-size="6.4" text-anchor="end" fill="#333" stroke="#333" stroke-width="0.18" font-weight="normal" >0.2</text>
<line x1="39.10" y1="389.45" x2="41.90" y2="389.45" stroke="#2a2a2a" stroke-width="0.9" />
<text x="35.30" y="391.75" font-size="6.4" text-anchor="end" fill="#333" stroke="#333" stroke-width="0.18" font-weight="normal" >0.1</text>
<line x1="39.10" y1="406.60" x2="41.90" y2="406.60" stroke="#2a2a2a" stroke-width="0.9" />
<text x="35.30" y="408.90" font-size="6.4" text-anchor="end" fill="#333" stroke="#333" stroke-width="0.18" font-weight="normal" >0.0</text>
<line x1="39.10" y1="423.75" x2="41.90" y2="423.75" stroke="#2a2a2a" stroke-width="0.9" />
<text x="35.30" y="426.05" font-size="6.4" text-anchor="end" fill="#333" stroke="#333" stroke-width="0.18" font-weight="normal" >−0.1</text>
<line x1="39.10" y1="440.90" x2="41.90" y2="440.90" stroke="#2a2a2a" stroke-width="0.9" />
<text x="35.30" y="443.20" font-size="6.4" text-anchor="end" fill="#333" stroke="#333" stroke-width="0.18" font-weight="normal" >−0.2</text>
<line x1="47.50" y1="447.40" x2="47.50" y2="450.20" stroke="#2a2a2a" stroke-width="0.9" />
<text x="47.50" y="458.80" font-size="6.4" text-anchor="middle" fill="#333" stroke="#333" stroke-width="0.18" font-weight="normal" >6</text>
<line x1="67.22" y1="447.40" x2="67.22" y2="450.20" stroke="#2a2a2a" stroke-width="0.9" />
<text x="67.22" y="458.80" font-size="6.4" text-anchor="middle" fill="#333" stroke="#333" stroke-width="0.18" font-weight="normal" >8</text>
<line x1="86.94" y1="447.40" x2="86.94" y2="450.20" stroke="#2a2a2a" stroke-width="0.9" />
<text x="86.94" y="458.80" font-size="6.4" text-anchor="middle" fill="#333" stroke="#333" stroke-width="0.18" font-weight="normal" >10</text>
<line x1="106.66" y1="447.40" x2="106.66" y2="450.20" stroke="#2a2a2a" stroke-width="0.9" />
<text x="106.66" y="458.80" font-size="6.4" text-anchor="middle" fill="#333" stroke="#333" stroke-width="0.18" font-weight="normal" >12</text>
<line x1="126.38" y1="447.40" x2="126.38" y2="450.20" stroke="#2a2a2a" stroke-width="0.9" />
<text x="126.38" y="458.80" font-size="6.4" text-anchor="middle" fill="#333" stroke="#333" stroke-width="0.18" font-weight="normal" >14</text>
<line x1="146.10" y1="447.40" x2="146.10" y2="450.20" stroke="#2a2a2a" stroke-width="0.9" />
<text x="146.10" y="458.80" font-size="6.4" text-anchor="middle" fill="#333" stroke="#333" stroke-width="0.18" font-weight="normal" >16</text>
<line x1="165.82" y1="447.40" x2="165.82" y2="450.20" stroke="#2a2a2a" stroke-width="0.9" />
<text x="165.82" y="458.80" font-size="6.4" text-anchor="middle" fill="#333" stroke="#333" stroke-width="0.18" font-weight="normal" >18</text>
<text x="106.70" y="470.90" font-size="8.6" text-anchor="middle" fill="#222" stroke="#222" stroke-width="0.22" font-weight="bold" textLength="30.3" lengthAdjust="spacingAndGlyphs">Hemoglobin</text>
<text transform="translate(22.50,407.00) rotate(-90)" x="0" y="0" font-size="8.0" text-anchor="middle" fill="#222" stroke="#222" stroke-width="0.22" font-weight="bold" textLength="19.4" lengthAdjust="spacingAndGlyphs">Density</text>
<text x="48.00" y="377.30" font-size="6.4" text-anchor="start" fill="#b92f50" stroke="#b92f50" stroke-width="0.18" font-weight="normal" >+CH</text>
<text x="47.40" y="440.70" font-size="6.4" text-anchor="start" fill="#3a62a2" stroke="#3a62a2" stroke-width="0.18" font-weight="normal" >no CH</text>
<path d="M221.00,406.60 C221.67,406.47 223.43,406.32 225.00,405.80 C226.57,405.28 228.73,404.67 230.40,403.50 C232.07,402.33 233.47,400.85 235.00,398.80 C236.53,396.75 238.07,394.13 239.60,391.20 C241.13,388.27 242.78,384.15 244.20,381.20 C245.62,378.25 246.82,375.30 248.10,373.50 C249.38,371.70 250.70,371.00 251.90,370.40 C253.10,369.80 254.15,369.65 255.30,369.90 C256.45,370.15 257.57,370.80 258.80,371.90 C260.03,373.00 261.28,374.45 262.70,376.50 C264.12,378.55 265.83,381.98 267.30,384.20 C268.77,386.42 269.97,388.00 271.50,389.80 C273.03,391.60 274.63,393.55 276.50,395.00 C278.37,396.45 280.65,397.52 282.70,398.50 C284.75,399.48 286.75,400.23 288.80,400.90 C290.85,401.57 293.13,402.03 295.00,402.50 C296.87,402.97 297.92,403.28 300.00,403.70 C302.08,404.12 304.57,404.60 307.50,405.00 C310.43,405.40 314.52,405.83 317.60,406.10 C320.68,406.37 324.60,406.52 326.00,406.60 L326.00,406.6 L221.00,406.6 Z" fill="#e58b78"/>
<path d="M221.00,406.60 C221.67,406.73 223.43,406.90 225.00,407.40 C226.57,407.90 228.73,408.47 230.40,409.60 C232.07,410.73 233.47,412.15 235.00,414.20 C236.53,416.25 238.07,419.07 239.60,421.90 C241.13,424.73 242.78,428.50 244.20,431.20 C245.62,433.90 246.82,436.22 248.10,438.10 C249.38,439.98 250.85,441.60 251.90,442.50 C252.95,443.40 253.50,443.60 254.40,443.50 C255.30,443.40 256.17,442.93 257.30,441.90 C258.43,440.87 259.78,439.35 261.20,437.30 C262.62,435.25 264.27,431.90 265.80,429.60 C267.33,427.30 268.62,425.55 270.40,423.50 C272.18,421.45 274.45,418.97 276.50,417.30 C278.55,415.63 280.65,414.52 282.70,413.50 C284.75,412.48 286.75,411.85 288.80,411.20 C290.85,410.55 293.13,410.00 295.00,409.60 C296.87,409.20 297.92,409.07 300.00,408.80 C302.08,408.53 304.57,408.28 307.50,408.00 C310.43,407.72 314.52,407.32 317.60,407.10 C320.68,406.88 324.60,406.77 326.00,406.70 L326.00,406.6 L221.00,406.6 Z" fill="#8b9bc4"/>
<line x1="212.40" y1="406.60" x2="341.90" y2="406.60" stroke="#111" stroke-width="1.1" />
<path d="M221.00,406.60 C221.67,406.47 223.43,406.32 225.00,405.80 C226.57,405.28 228.73,404.67 230.40,403.50 C232.07,402.33 233.47,400.85 235.00,398.80 C236.53,396.75 238.07,394.13 239.60,391.20 C241.13,388.27 242.78,384.15 244.20,381.20 C245.62,378.25 246.82,375.30 248.10,373.50 C249.38,371.70 250.70,371.00 251.90,370.40 C253.10,369.80 254.15,369.65 255.30,369.90 C256.45,370.15 257.57,370.80 258.80,371.90 C260.03,373.00 261.28,374.45 262.70,376.50 C264.12,378.55 265.83,381.98 267.30,384.20 C268.77,386.42 269.97,388.00 271.50,389.80 C273.03,391.60 274.63,393.55 276.50,395.00 C278.37,396.45 280.65,397.52 282.70,398.50 C284.75,399.48 286.75,400.23 288.80,400.90 C290.85,401.57 293.13,402.03 295.00,402.50 C296.87,402.97 297.92,403.28 300.00,403.70 C302.08,404.12 304.57,404.60 307.50,405.00 C310.43,405.40 314.52,405.83 317.60,406.10 C320.68,406.37 324.60,406.52 326.00,406.60" fill="none" stroke="#1c1c2a" stroke-width="1.0"/>
<path d="M221.00,406.60 C221.67,406.73 223.43,406.90 225.00,407.40 C226.57,407.90 228.73,408.47 230.40,409.60 C232.07,410.73 233.47,412.15 235.00,414.20 C236.53,416.25 238.07,419.07 239.60,421.90 C241.13,424.73 242.78,428.50 244.20,431.20 C245.62,433.90 246.82,436.22 248.10,438.10 C249.38,439.98 250.85,441.60 251.90,442.50 C252.95,443.40 253.50,443.60 254.40,443.50 C255.30,443.40 256.17,442.93 257.30,441.90 C258.43,440.87 259.78,439.35 261.20,437.30 C262.62,435.25 264.27,431.90 265.80,429.60 C267.33,427.30 268.62,425.55 270.40,423.50 C272.18,421.45 274.45,418.97 276.50,417.30 C278.55,415.63 280.65,414.52 282.70,413.50 C284.75,412.48 286.75,411.85 288.80,411.20 C290.85,410.55 293.13,410.00 295.00,409.60 C296.87,409.20 297.92,409.07 300.00,408.80 C302.08,408.53 304.57,408.28 307.50,408.00 C310.43,407.72 314.52,407.32 317.60,407.10 C320.68,406.88 324.60,406.77 326.00,406.70" fill="none" stroke="#1c1c2a" stroke-width="1.0"/>
<line x1="258.00" y1="366.70" x2="258.00" y2="447.40" stroke="#a8284a" stroke-width="1.0" opacity="0.95"/>
<line x1="258.00" y1="366.70" x2="258.00" y2="447.40" stroke="#2a3080" stroke-width="1.0" opacity="0.4"/>
<rect x="212.40" y="366.70" width="129.50" height="80.70" fill="none" stroke="#151515" stroke-width="1.3"/>
<line x1="209.60" y1="384.65" x2="212.40" y2="384.65" stroke="#2a2a2a" stroke-width="0.9" />
<text x="205.80" y="386.95" font-size="6.4" text-anchor="end" fill="#333" stroke="#333" stroke-width="0.18" font-weight="normal" >0.1</text>
<line x1="209.60" y1="406.60" x2="212.40" y2="406.60" stroke="#2a2a2a" stroke-width="0.9" />
<text x="205.80" y="408.90" font-size="6.4" text-anchor="end" fill="#333" stroke="#333" stroke-width="0.18" font-weight="normal" >0.0</text>
<line x1="209.60" y1="428.55" x2="212.40" y2="428.55" stroke="#2a2a2a" stroke-width="0.9" />
<text x="205.80" y="430.85" font-size="6.4" text-anchor="end" fill="#333" stroke="#333" stroke-width="0.18" font-weight="normal" >−0.1</text>
<line x1="217.50" y1="447.40" x2="217.50" y2="450.20" stroke="#2a2a2a" stroke-width="0.9" />
<text x="217.50" y="458.80" font-size="6.4" text-anchor="middle" fill="#333" stroke="#333" stroke-width="0.18" font-weight="normal" >0</text>
<line x1="229.39" y1="447.40" x2="229.39" y2="450.20" stroke="#2a2a2a" stroke-width="0.9" />
<text x="229.39" y="458.80" font-size="6.4" text-anchor="middle" fill="#333" stroke="#333" stroke-width="0.18" font-weight="normal" >2</text>
<line x1="241.28" y1="447.40" x2="241.28" y2="450.20" stroke="#2a2a2a" stroke-width="0.9" />
<text x="241.28" y="458.80" font-size="6.4" text-anchor="middle" fill="#333" stroke="#333" stroke-width="0.18" font-weight="normal" >4</text>
<line x1="253.17" y1="447.40" x2="253.17" y2="450.20" stroke="#2a2a2a" stroke-width="0.9" />
<text x="253.17" y="458.80" font-size="6.4" text-anchor="middle" fill="#333" stroke="#333" stroke-width="0.18" font-weight="normal" >6</text>
<line x1="265.06" y1="447.40" x2="265.06" y2="450.20" stroke="#2a2a2a" stroke-width="0.9" />
<text x="265.06" y="458.80" font-size="6.4" text-anchor="middle" fill="#333" stroke="#333" stroke-width="0.18" font-weight="normal" >8</text>
<line x1="276.95" y1="447.40" x2="276.95" y2="450.20" stroke="#2a2a2a" stroke-width="0.9" />
<text x="276.95" y="458.80" font-size="6.4" text-anchor="middle" fill="#333" stroke="#333" stroke-width="0.18" font-weight="normal" >10</text>
<line x1="288.84" y1="447.40" x2="288.84" y2="450.20" stroke="#2a2a2a" stroke-width="0.9" />
<text x="288.84" y="458.80" font-size="6.4" text-anchor="middle" fill="#333" stroke="#333" stroke-width="0.18" font-weight="normal" >12</text>
<line x1="300.73" y1="447.40" x2="300.73" y2="450.20" stroke="#2a2a2a" stroke-width="0.9" />
<text x="300.73" y="458.80" font-size="6.4" text-anchor="middle" fill="#333" stroke="#333" stroke-width="0.18" font-weight="normal" >14</text>
<line x1="312.62" y1="447.40" x2="312.62" y2="450.20" stroke="#2a2a2a" stroke-width="0.9" />
<text x="312.62" y="458.80" font-size="6.4" text-anchor="middle" fill="#333" stroke="#333" stroke-width="0.18" font-weight="normal" >16</text>
<line x1="324.51" y1="447.40" x2="324.51" y2="450.20" stroke="#2a2a2a" stroke-width="0.9" />
<text x="324.51" y="458.80" font-size="6.4" text-anchor="middle" fill="#333" stroke="#333" stroke-width="0.18" font-weight="normal" >18</text>
<line x1="336.40" y1="447.40" x2="336.40" y2="450.20" stroke="#2a2a2a" stroke-width="0.9" />
<text x="336.40" y="458.80" font-size="6.4" text-anchor="middle" fill="#333" stroke="#333" stroke-width="0.18" font-weight="normal" >20</text>
<text x="276.60" y="470.90" font-size="8.6" text-anchor="middle" fill="#222" stroke="#222" stroke-width="0.22" font-weight="bold" textLength="15.7" lengthAdjust="spacingAndGlyphs">WBCs</text>
<text transform="translate(187.30,407.00) rotate(-90)" x="0" y="0" font-size="8.0" text-anchor="middle" fill="#222" stroke="#222" stroke-width="0.22" font-weight="bold" textLength="19.4" lengthAdjust="spacingAndGlyphs">Density</text>
<text x="218.80" y="377.30" font-size="6.4" text-anchor="start" fill="#b92f50" stroke="#b92f50" stroke-width="0.18" font-weight="normal" >+CH</text>
<text x="218.20" y="440.70" font-size="6.4" text-anchor="start" fill="#3a62a2" stroke="#3a62a2" stroke-width="0.18" font-weight="normal" >no CH</text>
<path d="M401.00,406.70 C401.50,406.63 402.92,406.53 404.00,406.30 C405.08,406.07 406.30,405.77 407.50,405.30 C408.70,404.83 409.70,405.08 411.20,403.50 C412.70,401.92 414.72,399.65 416.50,395.80 C418.28,391.95 420.40,384.28 421.90,380.40 C423.40,376.52 424.35,374.17 425.50,372.50 C426.65,370.83 427.75,370.52 428.80,370.40 C429.85,370.28 430.72,370.17 431.80,371.80 C432.88,373.43 434.10,377.87 435.30,380.20 C436.50,382.53 437.80,384.17 439.00,385.80 C440.20,387.43 441.30,388.50 442.50,390.00 C443.70,391.50 444.88,393.47 446.20,394.80 C447.52,396.13 448.93,397.07 450.40,398.00 C451.87,398.93 453.47,399.75 455.00,400.40 C456.53,401.05 457.55,401.30 459.60,401.90 C461.65,402.50 464.73,403.43 467.30,404.00 C469.87,404.57 472.38,404.95 475.00,405.30 C477.62,405.65 480.17,405.88 483.00,406.10 C485.83,406.32 490.50,406.52 492.00,406.60 L492.00,406.7 L401.00,406.7 Z" fill="#e58b78"/>
<path d="M401.00,406.70 C401.50,406.80 402.92,406.98 404.00,407.30 C405.08,407.62 406.18,407.88 407.50,408.60 C408.82,409.32 410.43,410.20 411.90,411.60 C413.37,413.00 414.67,413.97 416.30,417.00 C417.93,420.03 420.12,426.32 421.70,429.80 C423.28,433.28 424.57,435.67 425.80,437.90 C427.03,440.13 428.27,442.13 429.10,443.20 C429.93,444.27 430.12,444.63 430.80,444.30 C431.48,443.97 432.25,442.72 433.20,441.20 C434.15,439.68 435.05,437.67 436.50,435.20 C437.95,432.73 439.88,429.43 441.90,426.40 C443.92,423.37 446.42,419.43 448.60,417.00 C450.78,414.57 452.93,413.03 455.00,411.80 C457.07,410.57 458.95,410.18 461.00,409.60 C463.05,409.02 464.97,408.67 467.30,408.30 C469.63,407.93 472.05,407.63 475.00,407.40 C477.95,407.17 481.67,407.02 485.00,406.90 C488.33,406.78 493.33,406.73 495.00,406.70 L495.00,406.7 L401.00,406.7 Z" fill="#8b9bc4"/>
<line x1="393.60" y1="406.70" x2="512.50" y2="406.70" stroke="#111" stroke-width="1.1" />
<path d="M401.00,406.70 C401.50,406.63 402.92,406.53 404.00,406.30 C405.08,406.07 406.30,405.77 407.50,405.30 C408.70,404.83 409.70,405.08 411.20,403.50 C412.70,401.92 414.72,399.65 416.50,395.80 C418.28,391.95 420.40,384.28 421.90,380.40 C423.40,376.52 424.35,374.17 425.50,372.50 C426.65,370.83 427.75,370.52 428.80,370.40 C429.85,370.28 430.72,370.17 431.80,371.80 C432.88,373.43 434.10,377.87 435.30,380.20 C436.50,382.53 437.80,384.17 439.00,385.80 C440.20,387.43 441.30,388.50 442.50,390.00 C443.70,391.50 444.88,393.47 446.20,394.80 C447.52,396.13 448.93,397.07 450.40,398.00 C451.87,398.93 453.47,399.75 455.00,400.40 C456.53,401.05 457.55,401.30 459.60,401.90 C461.65,402.50 464.73,403.43 467.30,404.00 C469.87,404.57 472.38,404.95 475.00,405.30 C477.62,405.65 480.17,405.88 483.00,406.10 C485.83,406.32 490.50,406.52 492.00,406.60" fill="none" stroke="#1c1c2a" stroke-width="1.0"/>
<path d="M401.00,406.70 C401.50,406.80 402.92,406.98 404.00,407.30 C405.08,407.62 406.18,407.88 407.50,408.60 C408.82,409.32 410.43,410.20 411.90,411.60 C413.37,413.00 414.67,413.97 416.30,417.00 C417.93,420.03 420.12,426.32 421.70,429.80 C423.28,433.28 424.57,435.67 425.80,437.90 C427.03,440.13 428.27,442.13 429.10,443.20 C429.93,444.27 430.12,444.63 430.80,444.30 C431.48,443.97 432.25,442.72 433.20,441.20 C434.15,439.68 435.05,437.67 436.50,435.20 C437.95,432.73 439.88,429.43 441.90,426.40 C443.92,423.37 446.42,419.43 448.60,417.00 C450.78,414.57 452.93,413.03 455.00,411.80 C457.07,410.57 458.95,410.18 461.00,409.60 C463.05,409.02 464.97,408.67 467.30,408.30 C469.63,407.93 472.05,407.63 475.00,407.40 C477.95,407.17 481.67,407.02 485.00,406.90 C488.33,406.78 493.33,406.73 495.00,406.70" fill="none" stroke="#1c1c2a" stroke-width="1.0"/>
<line x1="431.30" y1="366.70" x2="431.30" y2="447.40" stroke="#a8284a" stroke-width="1.0" opacity="0.95"/>
<line x1="431.30" y1="366.70" x2="431.30" y2="447.40" stroke="#2a3080" stroke-width="1.0" opacity="0.4"/>
<rect x="393.60" y="366.70" width="118.90" height="80.70" fill="none" stroke="#151515" stroke-width="1.3"/>
<line x1="390.80" y1="370.20" x2="393.60" y2="370.20" stroke="#2a2a2a" stroke-width="0.9" />
<text x="387.00" y="372.50" font-size="6.4" text-anchor="end" fill="#333" stroke="#333" stroke-width="0.18" font-weight="normal" >0.0050</text>
<line x1="390.80" y1="388.45" x2="393.60" y2="388.45" stroke="#2a2a2a" stroke-width="0.9" />
<text x="387.00" y="390.75" font-size="6.4" text-anchor="end" fill="#333" stroke="#333" stroke-width="0.18" font-weight="normal" >0.0025</text>
<line x1="390.80" y1="406.70" x2="393.60" y2="406.70" stroke="#2a2a2a" stroke-width="0.9" />
<text x="387.00" y="409.00" font-size="6.4" text-anchor="end" fill="#333" stroke="#333" stroke-width="0.18" font-weight="normal" >0.0000</text>
<line x1="390.80" y1="424.95" x2="393.60" y2="424.95" stroke="#2a2a2a" stroke-width="0.9" />
<text x="387.00" y="427.25" font-size="6.4" text-anchor="end" fill="#333" stroke="#333" stroke-width="0.18" font-weight="normal" >−0.0025</text>
<line x1="390.80" y1="443.20" x2="393.60" y2="443.20" stroke="#2a2a2a" stroke-width="0.9" />
<text x="387.00" y="445.50" font-size="6.4" text-anchor="end" fill="#333" stroke="#333" stroke-width="0.18" font-weight="normal" >−0.0050</text>
<line x1="397.80" y1="447.40" x2="397.80" y2="450.20" stroke="#2a2a2a" stroke-width="0.9" />
<text x="397.80" y="458.80" font-size="6.4" text-anchor="middle" fill="#333" stroke="#333" stroke-width="0.18" font-weight="normal" >0</text>
<line x1="425.24" y1="447.40" x2="425.24" y2="450.20" stroke="#2a2a2a" stroke-width="0.9" />
<text x="425.24" y="458.80" font-size="6.4" text-anchor="middle" fill="#333" stroke="#333" stroke-width="0.18" font-weight="normal" >200</text>
<line x1="452.68" y1="447.40" x2="452.68" y2="450.20" stroke="#2a2a2a" stroke-width="0.9" />
<text x="452.68" y="458.80" font-size="6.4" text-anchor="middle" fill="#333" stroke="#333" stroke-width="0.18" font-weight="normal" >400</text>
<line x1="480.12" y1="447.40" x2="480.12" y2="450.20" stroke="#2a2a2a" stroke-width="0.9" />
<text x="480.12" y="458.80" font-size="6.4" text-anchor="middle" fill="#333" stroke="#333" stroke-width="0.18" font-weight="normal" >600</text>
<line x1="507.56" y1="447.40" x2="507.56" y2="450.20" stroke="#2a2a2a" stroke-width="0.9" />
<text x="507.56" y="458.80" font-size="6.4" text-anchor="middle" fill="#333" stroke="#333" stroke-width="0.18" font-weight="normal" >800</text>
<text x="453.10" y="470.90" font-size="8.6" text-anchor="middle" fill="#222" stroke="#222" stroke-width="0.22" font-weight="bold" textLength="22.1" lengthAdjust="spacingAndGlyphs">Platelets</text>
<text transform="translate(358.00,407.00) rotate(-90)" x="0" y="0" font-size="8.0" text-anchor="middle" fill="#222" stroke="#222" stroke-width="0.22" font-weight="bold" textLength="19.4" lengthAdjust="spacingAndGlyphs">Density</text>
<text x="400.10" y="377.30" font-size="6.4" text-anchor="start" fill="#b92f50" stroke="#b92f50" stroke-width="0.18" font-weight="normal" >+CH</text>
<text x="399.50" y="440.70" font-size="6.4" text-anchor="start" fill="#3a62a2" stroke="#3a62a2" stroke-width="0.18" font-weight="normal" >no CH</text>
<text x="7.20" y="498.30" font-size="11.4" font-weight="bold" fill="#000" textLength="8.3" lengthAdjust="spacingAndGlyphs">G</text>
<line x1="41.50" y1="512.50" x2="41.50" y2="577.00" stroke="#2a2a2a" stroke-width="1.4" />
<line x1="40.80" y1="576.30" x2="252.00" y2="576.30" stroke="#2a2a2a" stroke-width="1.4" />
<line x1="38.30" y1="573.30" x2="41.50" y2="573.30" stroke="#2a2a2a" stroke-width="0.9" />
<text x="35.00" y="575.60" font-size="6.4" text-anchor="end" fill="#333" stroke="#333" stroke-width="0.18" font-weight="normal" >0.000</text>
<line x1="38.30" y1="558.74" x2="41.50" y2="558.74" stroke="#2a2a2a" stroke-width="0.9" />
<text x="35.00" y="561.04" font-size="6.4" text-anchor="end" fill="#333" stroke="#333" stroke-width="0.18" font-weight="normal" >0.005</text>
<line x1="38.30" y1="544.18" x2="41.50" y2="544.18" stroke="#2a2a2a" stroke-width="0.9" />
<text x="35.00" y="546.48" font-size="6.4" text-anchor="end" fill="#333" stroke="#333" stroke-width="0.18" font-weight="normal" >0.010</text>
<line x1="38.30" y1="529.62" x2="41.50" y2="529.62" stroke="#2a2a2a" stroke-width="0.9" />
<text x="35.00" y="531.92" font-size="6.4" text-anchor="end" fill="#333" stroke="#333" stroke-width="0.18" font-weight="normal" >0.015</text>
<line x1="38.30" y1="515.06" x2="41.50" y2="515.06" stroke="#2a2a2a" stroke-width="0.9" />
<text x="35.00" y="517.36" font-size="6.4" text-anchor="end" fill="#333" stroke="#333" stroke-width="0.18" font-weight="normal" >0.020</text>
<line x1="51.20" y1="576.30" x2="51.20" y2="578.90" stroke="#2a2a2a" stroke-width="0.8" />
<text x="51.20" y="588.30" font-size="6.4" text-anchor="middle" fill="#333" stroke="#333" stroke-width="0.18" font-weight="normal" >0</text>
<line x1="89.48" y1="576.30" x2="89.48" y2="578.90" stroke="#2a2a2a" stroke-width="0.8" />
<text x="89.48" y="588.30" font-size="6.4" text-anchor="middle" fill="#333" stroke="#333" stroke-width="0.18" font-weight="normal" >500</text>
<line x1="127.76" y1="576.30" x2="127.76" y2="578.90" stroke="#2a2a2a" stroke-width="0.8" />
<text x="127.76" y="588.30" font-size="6.4" text-anchor="middle" fill="#333" stroke="#333" stroke-width="0.18" font-weight="normal" >1000</text>
<line x1="166.04" y1="576.30" x2="166.04" y2="578.90" stroke="#2a2a2a" stroke-width="0.8" />
<text x="166.04" y="588.30" font-size="6.4" text-anchor="middle" fill="#333" stroke="#333" stroke-width="0.18" font-weight="normal" >1500</text>
<line x1="204.32" y1="576.30" x2="204.32" y2="578.90" stroke="#2a2a2a" stroke-width="0.8" />
<text x="204.32" y="588.30" font-size="6.4" text-anchor="middle" fill="#333" stroke="#333" stroke-width="0.18" font-weight="normal" >2000</text>
<line x1="242.60" y1="576.30" x2="242.60" y2="578.90" stroke="#2a2a2a" stroke-width="0.8" />
<text x="242.60" y="588.30" font-size="6.4" text-anchor="middle" fill="#333" stroke="#333" stroke-width="0.18" font-weight="normal" >2500</text>
<text x="147.10" y="599.20" font-size="7.8" text-anchor="middle" fill="#222" stroke="#222" stroke-width="0.22" font-weight="bold" textLength="12.5" lengthAdjust="spacingAndGlyphs">Days</text>
<text transform="translate(13.90,544.00) rotate(-90)" x="0" y="0" font-size="7.8" text-anchor="middle" fill="#222" stroke="#222" stroke-width="0.22" font-weight="bold" textLength="46.5" lengthAdjust="spacingAndGlyphs">Heme malignancy</text>
<text x="46.60" y="519.60" font-size="6.45" text-anchor="start" fill="#c8314f" stroke="#c8314f" stroke-width="0.18" font-weight="normal" >CH HR = 1.93 (95% CI 1.45-2.57)</text>
<text x="46.60" y="527.1" font-size="6.3" fill="#c8314f" stroke="#c8314f" stroke-width="0.18"><tspan font-style="italic">P</tspan> &lt; .001</text>
<polyline points="51.10,573.30 57.00,572.60 63.40,571.20 70.00,569.80 78.80,568.10 84.00,566.60 89.50,565.50 101.80,564.20 110.00,563.60 117.20,562.70 120.00,563.10 130.00,561.50 143.10,559.20 170.80,558.50 174.00,557.20 178.50,555.80 190.80,554.60 200.00,553.10 207.60,552.50 231.80,552.50 231.80,542.80 242.50,542.80" fill="none" stroke="#3f72a8" stroke-width="0.95" stroke-linejoin="round" />
<polyline points="51.10,573.30 56.00,571.50 63.40,567.30 70.00,564.30 78.80,560.80 86.00,557.60 94.20,554.20 100.00,552.20 103.40,551.20 106.00,549.00 109.50,546.50 112.00,545.60 115.70,544.20 120.00,543.60 123.40,542.20 129.20,542.30 138.50,541.20 141.00,539.50 144.60,536.20 147.00,535.00 150.80,533.80 166.20,533.80 170.80,532.30 173.00,531.00 176.90,529.50 187.70,529.20 188.50,527.40 222.30,527.40 222.30,518.10 242.50,518.10" fill="none" stroke="#cc3352" stroke-width="0.95" stroke-linejoin="round" />
<text x="35.60" y="610.40" font-size="6.6" text-anchor="end" fill="#3a66a8" stroke="#3a66a8" stroke-width="0.18" font-weight="normal" >no CH</text>
<text x="35.60" y="620.90" font-size="6.3" text-anchor="end" fill="#222" stroke="#222" stroke-width="0.18" font-weight="normal" >At Risk</text>
<text x="35.60" y="628.90" font-size="6.3" text-anchor="end" fill="#222" stroke="#222" stroke-width="0.18" font-weight="normal" >Events</text>
<text x="35.60" y="644.60" font-size="6.6" text-anchor="end" fill="#c8314f" stroke="#c8314f" stroke-width="0.18" font-weight="normal" >+CH</text>
<text x="35.60" y="654.90" font-size="6.3" text-anchor="end" fill="#222" stroke="#222" stroke-width="0.18" font-weight="normal" >At Risk</text>
<text x="35.60" y="662.90" font-size="6.3" text-anchor="end" fill="#222" stroke="#222" stroke-width="0.18" font-weight="normal" >Events</text>
<text x="51.20" y="620.90" font-size="6.5" text-anchor="middle" fill="#2a2a2a" stroke="#2a2a2a" stroke-width="0.18" font-weight="normal" >27775</text>
<text x="51.20" y="628.90" font-size="6.5" text-anchor="middle" fill="#2a2a2a" stroke="#2a2a2a" stroke-width="0.18" font-weight="normal" >0</text>
<text x="89.48" y="620.90" font-size="6.5" text-anchor="middle" fill="#2a2a2a" stroke="#2a2a2a" stroke-width="0.18" font-weight="normal" >14720</text>
<text x="89.48" y="628.90" font-size="6.5" text-anchor="middle" fill="#2a2a2a" stroke="#2a2a2a" stroke-width="0.18" font-weight="normal" >62</text>
<text x="127.76" y="620.90" font-size="6.5" text-anchor="middle" fill="#2a2a2a" stroke="#2a2a2a" stroke-width="0.18" font-weight="normal" >7036</text>
<text x="127.76" y="628.90" font-size="6.5" text-anchor="middle" fill="#2a2a2a" stroke="#2a2a2a" stroke-width="0.18" font-weight="normal" >83</text>
<text x="166.04" y="620.90" font-size="6.5" text-anchor="middle" fill="#2a2a2a" stroke="#2a2a2a" stroke-width="0.18" font-weight="normal" >2958</text>
<text x="166.04" y="628.90" font-size="6.5" text-anchor="middle" fill="#2a2a2a" stroke="#2a2a2a" stroke-width="0.18" font-weight="normal" >96</text>
<text x="204.32" y="620.90" font-size="6.5" text-anchor="middle" fill="#2a2a2a" stroke="#2a2a2a" stroke-width="0.18" font-weight="normal" >825</text>
<text x="204.32" y="628.90" font-size="6.5" text-anchor="middle" fill="#2a2a2a" stroke="#2a2a2a" stroke-width="0.18" font-weight="normal" >103</text>
<text x="242.60" y="620.90" font-size="6.5" text-anchor="middle" fill="#2a2a2a" stroke="#2a2a2a" stroke-width="0.18" font-weight="normal" >11</text>
<text x="242.60" y="628.90" font-size="6.5" text-anchor="middle" fill="#2a2a2a" stroke="#2a2a2a" stroke-width="0.18" font-weight="normal" >105</text>
<text x="51.20" y="655.00" font-size="6.5" text-anchor="middle" fill="#2a2a2a" stroke="#2a2a2a" stroke-width="0.18" font-weight="normal" >11737</text>
<text x="51.20" y="663.00" font-size="6.5" text-anchor="middle" fill="#2a2a2a" stroke="#2a2a2a" stroke-width="0.18" font-weight="normal" >0</text>
<text x="89.48" y="655.00" font-size="6.5" text-anchor="middle" fill="#2a2a2a" stroke="#2a2a2a" stroke-width="0.18" font-weight="normal" >5716</text>
<text x="89.48" y="663.00" font-size="6.5" text-anchor="middle" fill="#2a2a2a" stroke="#2a2a2a" stroke-width="0.18" font-weight="normal" >60</text>
<text x="127.76" y="655.00" font-size="6.5" text-anchor="middle" fill="#2a2a2a" stroke="#2a2a2a" stroke-width="0.18" font-weight="normal" >2603</text>
<text x="127.76" y="663.00" font-size="6.5" text-anchor="middle" fill="#2a2a2a" stroke="#2a2a2a" stroke-width="0.18" font-weight="normal" >93</text>
<text x="166.04" y="655.00" font-size="6.5" text-anchor="middle" fill="#2a2a2a" stroke="#2a2a2a" stroke-width="0.18" font-weight="normal" >1069</text>
<text x="166.04" y="663.00" font-size="6.5" text-anchor="middle" fill="#2a2a2a" stroke="#2a2a2a" stroke-width="0.18" font-weight="normal" >107</text>
<text x="204.32" y="655.00" font-size="6.5" text-anchor="middle" fill="#2a2a2a" stroke="#2a2a2a" stroke-width="0.18" font-weight="normal" >258</text>
<text x="204.32" y="663.00" font-size="6.5" text-anchor="middle" fill="#2a2a2a" stroke="#2a2a2a" stroke-width="0.18" font-weight="normal" >112</text>
<text x="242.60" y="655.00" font-size="6.5" text-anchor="middle" fill="#2a2a2a" stroke="#2a2a2a" stroke-width="0.18" font-weight="normal" >1</text>
<text x="242.60" y="663.00" font-size="6.5" text-anchor="middle" fill="#2a2a2a" stroke="#2a2a2a" stroke-width="0.18" font-weight="normal" >113</text>
<text x="267.80" y="498.30" font-size="11.4" font-weight="bold" fill="#000" textLength="7.5" lengthAdjust="spacingAndGlyphs">H</text>
<line x1="302.20" y1="512.50" x2="302.20" y2="577.00" stroke="#2a2a2a" stroke-width="1.4" />
<line x1="301.50" y1="576.30" x2="512.00" y2="576.30" stroke="#2a2a2a" stroke-width="1.4" />
<line x1="299.00" y1="573.30" x2="302.20" y2="573.30" stroke="#2a2a2a" stroke-width="0.9" />
<text x="295.70" y="575.60" font-size="6.4" text-anchor="end" fill="#333" stroke="#333" stroke-width="0.18" font-weight="normal" >0.00</text>
<line x1="299.00" y1="557.00" x2="302.20" y2="557.00" stroke="#2a2a2a" stroke-width="0.9" />
<text x="295.70" y="559.30" font-size="6.4" text-anchor="end" fill="#333" stroke="#333" stroke-width="0.18" font-weight="normal" >0.25</text>
<line x1="299.00" y1="540.70" x2="302.20" y2="540.70" stroke="#2a2a2a" stroke-width="0.9" />
<text x="295.70" y="543.00" font-size="6.4" text-anchor="end" fill="#333" stroke="#333" stroke-width="0.18" font-weight="normal" >0.50</text>
<line x1="299.00" y1="524.40" x2="302.20" y2="524.40" stroke="#2a2a2a" stroke-width="0.9" />
<text x="295.70" y="526.70" font-size="6.4" text-anchor="end" fill="#333" stroke="#333" stroke-width="0.18" font-weight="normal" >0.75</text>
<line x1="311.20" y1="576.30" x2="311.20" y2="578.90" stroke="#2a2a2a" stroke-width="0.8" />
<text x="311.20" y="588.30" font-size="6.4" text-anchor="middle" fill="#333" stroke="#333" stroke-width="0.18" font-weight="normal" >0</text>
<line x1="349.48" y1="576.30" x2="349.48" y2="578.90" stroke="#2a2a2a" stroke-width="0.8" />
<text x="349.48" y="588.30" font-size="6.4" text-anchor="middle" fill="#333" stroke="#333" stroke-width="0.18" font-weight="normal" >500</text>
<line x1="387.76" y1="576.30" x2="387.76" y2="578.90" stroke="#2a2a2a" stroke-width="0.8" />
<text x="387.76" y="588.30" font-size="6.4" text-anchor="middle" fill="#333" stroke="#333" stroke-width="0.18" font-weight="normal" >1000</text>
<line x1="426.04" y1="576.30" x2="426.04" y2="578.90" stroke="#2a2a2a" stroke-width="0.8" />
<text x="426.04" y="588.30" font-size="6.4" text-anchor="middle" fill="#333" stroke="#333" stroke-width="0.18" font-weight="normal" >1500</text>
<line x1="464.32" y1="576.30" x2="464.32" y2="578.90" stroke="#2a2a2a" stroke-width="0.8" />
<text x="464.32" y="588.30" font-size="6.4" text-anchor="middle" fill="#333" stroke="#333" stroke-width="0.18" font-weight="normal" >2000</text>
<line x1="502.60" y1="576.30" x2="502.60" y2="578.90" stroke="#2a2a2a" stroke-width="0.8" />
<text x="502.60" y="588.30" font-size="6.4" text-anchor="middle" fill="#333" stroke="#333" stroke-width="0.18" font-weight="normal" >2500</text>
<text x="407.10" y="599.20" font-size="7.8" text-anchor="middle" fill="#222" stroke="#222" stroke-width="0.22" font-weight="bold" textLength="12.5" lengthAdjust="spacingAndGlyphs">Days</text>
<text transform="translate(274.30,544.00) rotate(-90)" x="0" y="0" font-size="7.8" text-anchor="middle" fill="#222" stroke="#222" stroke-width="0.22" font-weight="bold" textLength="23.2" lengthAdjust="spacingAndGlyphs">Mortality</text>
<text x="306.60" y="519.60" font-size="6.45" text-anchor="start" fill="#c8314f" stroke="#c8314f" stroke-width="0.18" font-weight="normal" >CH HR = 1.11 (95% CI 1.07-1.15)</text>
<text x="306.60" y="527.1" font-size="6.3" fill="#c8314f" stroke="#c8314f" stroke-width="0.18"><tspan font-style="italic">P</tspan> &lt; .001</text>
<polyline points="312.20,573.60 322.30,568.60 333.80,562.90 345.40,557.70 356.90,553.60 365.00,551.00 374.00,548.30 385.00,545.60 395.20,543.30 410.00,540.50 421.20,538.60 442.30,534.80 463.50,531.60 484.60,528.60 492.00,527.30 498.40,525.20 500.50,523.50 502.60,521.20" fill="none" stroke="#3f72a8" stroke-width="0.95" stroke-linejoin="round" />
<polyline points="312.20,573.60 322.30,566.90 333.80,560.20 345.40,554.20 356.90,549.40 365.00,546.10 374.00,542.90 385.00,540.00 395.20,537.70 410.00,534.90 421.20,532.80 442.30,528.60 463.50,525.40 484.60,522.20 490.00,521.00 493.10,520.10 497.30,518.60 499.40,518.00 499.40,515.20 502.60,515.20" fill="none" stroke="#cc3352" stroke-width="0.95" stroke-linejoin="round" />
<text x="295.60" y="610.40" font-size="6.6" text-anchor="end" fill="#3a66a8" stroke="#3a66a8" stroke-width="0.18" font-weight="normal" >no CH</text>
<text x="295.60" y="620.90" font-size="6.3" text-anchor="end" fill="#222" stroke="#222" stroke-width="0.18" font-weight="normal" >At Risk</text>
<text x="295.60" y="628.90" font-size="6.3" text-anchor="end" fill="#222" stroke="#222" stroke-width="0.18" font-weight="normal" >Events</text>
<text x="295.60" y="644.60" font-size="6.6" text-anchor="end" fill="#c8314f" stroke="#c8314f" stroke-width="0.18" font-weight="normal" >+CH</text>
<text x="295.60" y="654.90" font-size="6.3" text-anchor="end" fill="#222" stroke="#222" stroke-width="0.18" font-weight="normal" >At Risk</text>
<text x="295.60" y="662.90" font-size="6.3" text-anchor="end" fill="#222" stroke="#222" stroke-width="0.18" font-weight="normal" >Events</text>
<text x="311.20" y="620.90" font-size="6.5" text-anchor="middle" fill="#2a2a2a" stroke="#2a2a2a" stroke-width="0.18" font-weight="normal" >27775</text>
<text x="311.20" y="628.90" font-size="6.5" text-anchor="middle" fill="#2a2a2a" stroke="#2a2a2a" stroke-width="0.18" font-weight="normal" >0</text>
<text x="349.48" y="620.90" font-size="6.5" text-anchor="middle" fill="#2a2a2a" stroke="#2a2a2a" stroke-width="0.18" font-weight="normal" >14720</text>
<text x="349.48" y="628.90" font-size="6.5" text-anchor="middle" fill="#2a2a2a" stroke="#2a2a2a" stroke-width="0.18" font-weight="normal" >6189</text>
<text x="387.76" y="620.90" font-size="6.5" text-anchor="middle" fill="#2a2a2a" stroke="#2a2a2a" stroke-width="0.18" font-weight="normal" >7036</text>
<text x="387.76" y="628.90" font-size="6.5" text-anchor="middle" fill="#2a2a2a" stroke="#2a2a2a" stroke-width="0.18" font-weight="normal" >9082</text>
<text x="426.04" y="620.90" font-size="6.5" text-anchor="middle" fill="#2a2a2a" stroke="#2a2a2a" stroke-width="0.18" font-weight="normal" >2958</text>
<text x="426.04" y="628.90" font-size="6.5" text-anchor="middle" fill="#2a2a2a" stroke="#2a2a2a" stroke-width="0.18" font-weight="normal" >10130</text>
<text x="464.32" y="620.90" font-size="6.5" text-anchor="middle" fill="#2a2a2a" stroke="#2a2a2a" stroke-width="0.18" font-weight="normal" >825</text>
<text x="464.32" y="628.90" font-size="6.5" text-anchor="middle" fill="#2a2a2a" stroke="#2a2a2a" stroke-width="0.18" font-weight="normal" >10517</text>
<text x="502.60" y="620.90" font-size="6.5" text-anchor="middle" fill="#2a2a2a" stroke="#2a2a2a" stroke-width="0.18" font-weight="normal" >11</text>
<text x="502.60" y="628.90" font-size="6.5" text-anchor="middle" fill="#2a2a2a" stroke="#2a2a2a" stroke-width="0.18" font-weight="normal" >10606</text>
<text x="311.20" y="655.00" font-size="6.5" text-anchor="middle" fill="#2a2a2a" stroke="#2a2a2a" stroke-width="0.18" font-weight="normal" >11737</text>
<text x="311.20" y="663.00" font-size="6.5" text-anchor="middle" fill="#2a2a2a" stroke="#2a2a2a" stroke-width="0.18" font-weight="normal" >0</text>
<text x="349.48" y="655.00" font-size="6.5" text-anchor="middle" fill="#2a2a2a" stroke="#2a2a2a" stroke-width="0.18" font-weight="normal" >5716</text>
<text x="349.48" y="663.00" font-size="6.5" text-anchor="middle" fill="#2a2a2a" stroke="#2a2a2a" stroke-width="0.18" font-weight="normal" >3299</text>
<text x="387.76" y="655.00" font-size="6.5" text-anchor="middle" fill="#2a2a2a" stroke="#2a2a2a" stroke-width="0.18" font-weight="normal" >2603</text>
<text x="387.76" y="663.00" font-size="6.5" text-anchor="middle" fill="#2a2a2a" stroke="#2a2a2a" stroke-width="0.18" font-weight="normal" >4645</text>
<text x="426.04" y="655.00" font-size="6.5" text-anchor="middle" fill="#2a2a2a" stroke="#2a2a2a" stroke-width="0.18" font-weight="normal" >1069</text>
<text x="426.04" y="663.00" font-size="6.5" text-anchor="middle" fill="#2a2a2a" stroke="#2a2a2a" stroke-width="0.18" font-weight="normal" >5085</text>
<text x="464.32" y="655.00" font-size="6.5" text-anchor="middle" fill="#2a2a2a" stroke="#2a2a2a" stroke-width="0.18" font-weight="normal" >258</text>
<text x="464.32" y="663.00" font-size="6.5" text-anchor="middle" fill="#2a2a2a" stroke="#2a2a2a" stroke-width="0.18" font-weight="normal" >5253</text>
<text x="502.60" y="655.00" font-size="6.5" text-anchor="middle" fill="#2a2a2a" stroke="#2a2a2a" stroke-width="0.18" font-weight="normal" >1</text>
<text x="502.60" y="663.00" font-size="6.5" text-anchor="middle" fill="#2a2a2a" stroke="#2a2a2a" stroke-width="0.18" font-weight="normal" >5289</text>
<rect x="0.5" y="0.5" width="519" height="670" fill="none" stroke="#505050" stroke-width="1.1"/>
</svg></body></html>
